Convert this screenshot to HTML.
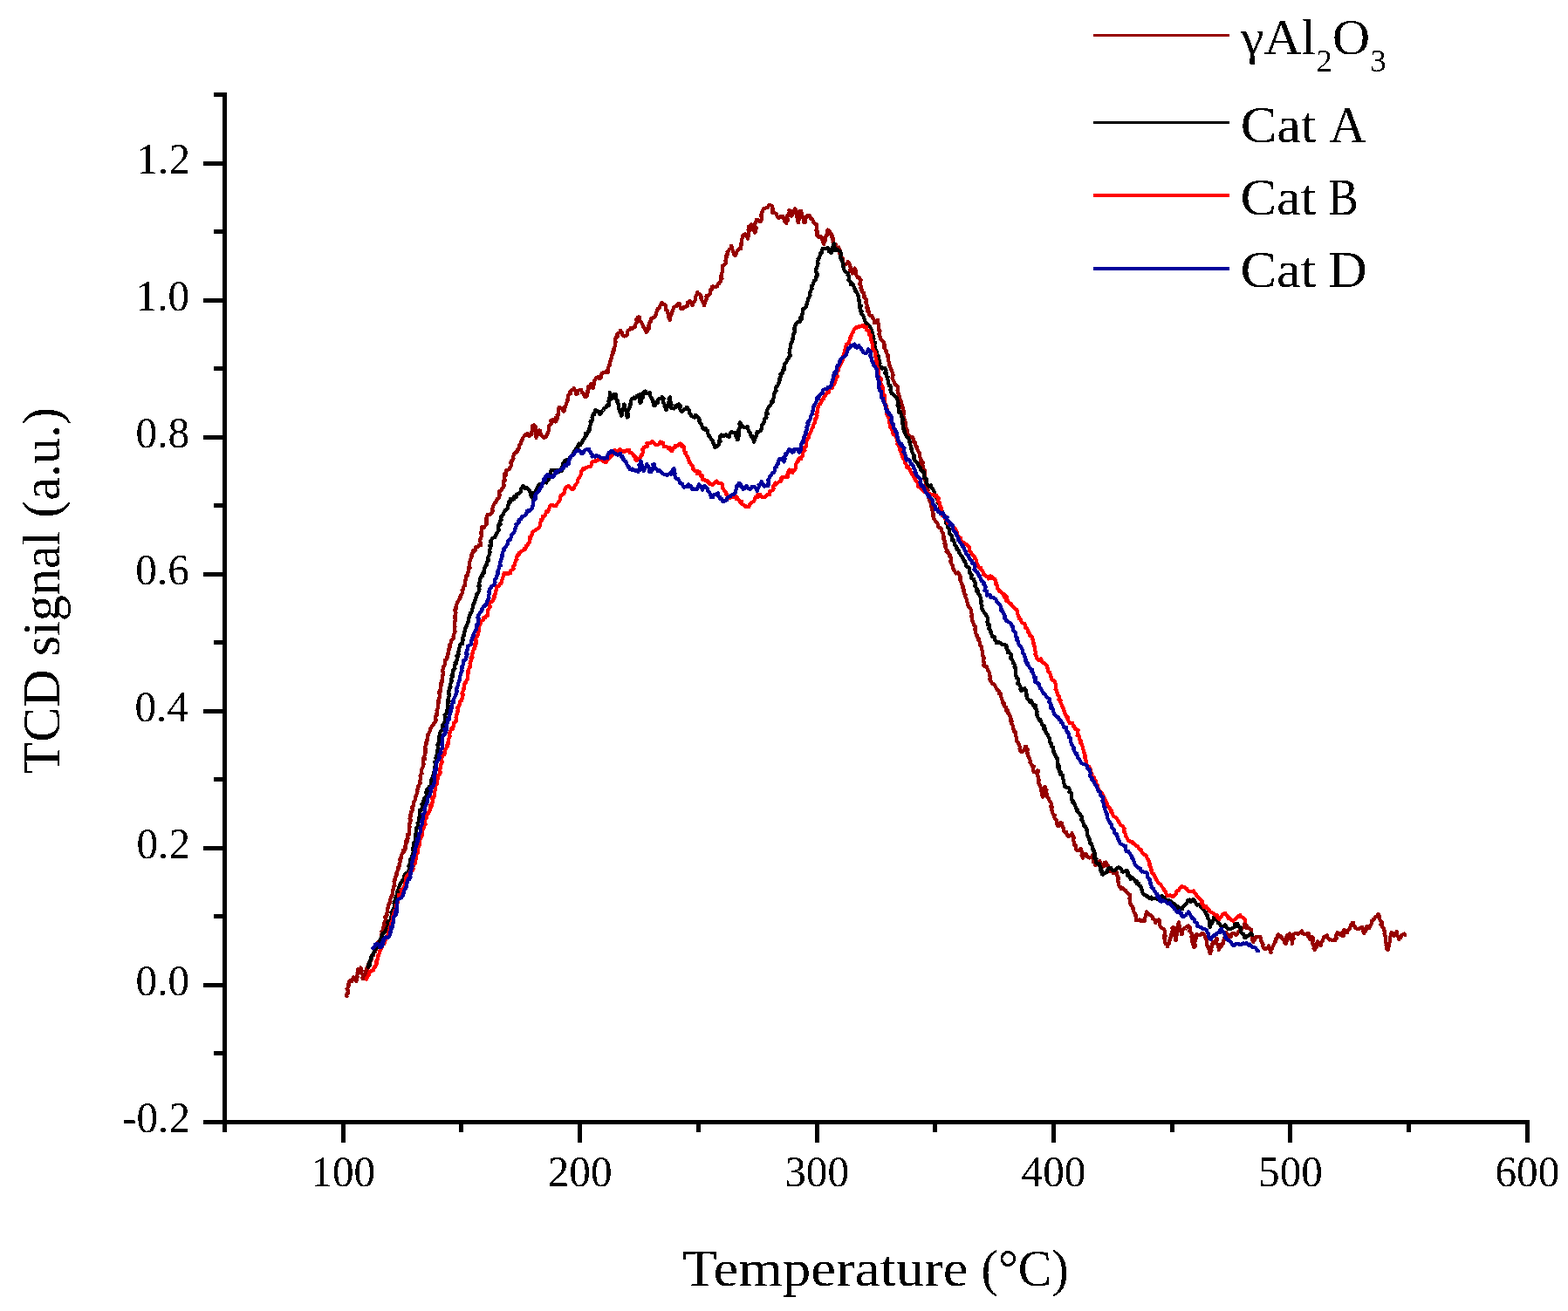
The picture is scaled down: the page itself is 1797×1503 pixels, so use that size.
<!DOCTYPE html>
<html lang="en">
<head>
<meta charset="utf-8">
<title>TCD signal vs Temperature</title>
<style>
html,body{margin:0;padding:0;background:#fff;}
body{width:1797px;height:1503px;overflow:hidden;}
svg{display:block;}
text{font-family:'Liberation Serif', 'DejaVu Serif', serif;fill:#000;}
</style>
</head>
<body>
<svg width="1797" height="1503" viewBox="0 0 1797 1503">
<rect x="0" y="0" width="1797" height="1503" fill="#ffffff"/>
<defs><filter id="crisp" x="0" y="0" width="1797" height="1503" filterUnits="userSpaceOnUse" color-interpolation-filters="sRGB"><feComponentTransfer><feFuncA type="discrete" tableValues="0 0 0 0 0 1 1 1 1 1"/></feComponentTransfer></filter></defs>
<g fill="none" stroke-width="4.2" stroke-linejoin="round" stroke-linecap="round" shape-rendering="crispEdges">
<polyline stroke="#960000" points="397.5,1142.1 397.0,1140.2 398.5,1139.4 398.6,1136.8 399.0,1135.5 397.7,1133.6 397.9,1133.5 399.9,1129.8 399.2,1128.7 399.8,1128.2 400.5,1124.8 401.5,1124.0 403.4,1124.7 403.5,1123.3 405.0,1120.4 406.3,1123.4 407.9,1122.6 408.4,1125.4 408.9,1122.3 407.8,1121.5 409.6,1120.3 408.6,1119.4 410.3,1115.6 409.5,1115.2 410.7,1111.7 410.1,1111.2 411.8,1111.9 413.4,1109.5 414.0,1112.0 414.7,1113.1 414.0,1115.2 414.9,1116.1 415.9,1118.0 415.5,1121.1 415.9,1122.0 417.2,1121.7 417.5,1117.9 418.6,1118.4 419.0,1116.3 419.2,1113.7 419.9,1112.2 420.7,1109.5 421.5,1110.5 421.1,1108.6 422.9,1105.0 422.2,1105.1 423.2,1102.7 424.7,1102.3 425.1,1100.3 426.3,1099.1 426.1,1095.7 426.4,1094.9 427.9,1095.2 427.9,1092.6 430.1,1091.2 430.3,1090.4 430.9,1088.5 431.4,1087.8 431.3,1086.6 433.4,1082.6 432.7,1081.8 433.2,1080.0 435.0,1078.4 434.5,1079.8 435.9,1076.9 436.8,1075.3 437.1,1073.2 437.4,1071.1 438.0,1069.6 437.4,1067.9 438.3,1068.8 439.0,1067.3 439.0,1063.3 440.0,1061.4 440.9,1060.5 439.8,1058.5 440.2,1059.2 440.9,1056.1 442.4,1054.7 441.2,1051.3 441.3,1050.6 442.9,1050.2 443.7,1049.3 443.1,1047.2 443.7,1045.8 443.6,1045.0 443.7,1042.2 445.1,1040.2 445.3,1039.6 445.4,1038.2 445.6,1036.0 447.5,1033.6 446.9,1031.5 448.0,1029.2 447.9,1029.7 449.2,1026.1 449.9,1025.7 450.1,1023.5 449.7,1022.2 450.9,1019.0 450.7,1020.0 451.6,1016.2 451.5,1015.4 452.5,1015.1 451.5,1010.8 452.6,1009.1 452.3,1007.8 452.5,1007.9 452.8,1006.1 454.9,1003.1 454.3,1002.7 455.3,1001.4 454.5,1001.0 456.1,997.5 456.9,995.0 457.2,995.9 456.2,994.5 458.1,992.9 457.5,990.7 459.0,987.8 457.9,985.1 459.3,985.1 459.8,983.8 459.6,982.6 460.0,980.5 461.4,978.1 461.0,978.9 463.2,976.3 462.1,974.6 464.5,973.9 464.5,969.9 464.8,969.1 465.1,968.4 466.6,965.1 465.4,966.4 465.6,962.8 466.4,963.1 467.6,961.6 467.0,957.0 467.7,957.7 468.7,956.6 469.3,952.0 469.3,951.8 469.1,949.1 469.1,949.0 469.7,947.6 468.9,946.5 469.4,944.2 470.9,940.2 470.5,941.7 469.5,938.4 470.5,936.3 470.2,934.0 471.0,933.4 471.0,930.8 471.5,931.4 473.3,927.6 471.9,925.9 474.1,923.9 474.2,922.0 474.3,921.7 474.4,918.9 475.4,917.9 476.1,916.8 475.8,913.4 477.1,911.8 476.8,913.3 477.8,909.5 478.5,907.5 478.2,906.9 478.5,905.0 479.5,902.6 479.4,901.1 480.2,900.0 480.9,898.7 482.0,897.9 481.1,896.3 481.9,892.9 481.9,890.7 481.5,889.0 481.5,889.1 482.6,887.1 483.6,886.5 482.6,885.2 483.2,882.7 484.0,880.3 484.5,880.0 484.8,877.1 485.5,876.2 485.1,873.7 485.1,873.7 485.4,868.8 486.9,870.2 486.3,867.9 486.9,864.0 487.3,864.1 488.0,861.9 486.8,861.3 487.6,858.7 487.9,858.3 487.1,856.0 489.2,852.6 487.7,852.0 489.1,850.8 489.1,848.1 489.8,848.7 489.6,845.0 490.8,842.6 490.1,842.0 491.0,841.5 492.3,839.5 493.0,836.8 493.4,835.3 495.4,832.3 495.3,832.5 496.9,830.6 496.8,829.8 498.4,828.6 499.0,827.1 499.8,825.2 498.8,824.1 499.5,820.3 499.8,819.0 500.6,820.0 501.1,818.5 500.9,815.3 500.5,814.7 502.0,811.1 501.7,809.2 501.7,808.7 502.1,806.6 503.0,805.9 502.1,803.8 503.7,800.3 503.4,800.3 504.2,797.0 503.7,796.5 503.1,793.8 504.6,792.8 504.5,790.8 504.9,791.7 505.4,788.1 505.1,786.9 506.3,784.7 505.2,783.3 506.8,781.5 505.7,780.4 506.6,779.4 507.0,777.5 506.7,775.0 508.1,773.5 507.9,771.4 507.6,770.2 506.9,768.2 508.3,766.5 508.0,764.0 507.9,764.2 509.2,762.9 510.2,761.0 510.4,759.9 510.1,756.8 511.6,756.3 512.3,753.0 513.1,753.2 513.4,751.4 513.5,748.5 514.4,747.1 514.4,746.6 514.5,744.0 516.2,741.0 515.1,739.5 516.2,738.5 516.8,736.8 517.4,734.3 518.3,733.4 520.1,731.8 519.5,729.6 519.7,728.9 520.7,725.9 521.5,724.4 521.4,722.8 520.8,722.1 520.9,719.6 521.5,718.9 521.0,716.8 521.2,715.0 520.7,713.1 521.7,712.5 522.3,710.9 522.4,707.8 521.1,708.5 521.5,705.4 522.5,702.1 521.8,701.8 521.4,700.0 521.9,696.9 523.3,696.9 523.1,695.5 523.2,693.1 523.6,692.2 524.3,690.1 525.3,688.7 526.6,687.0 527.6,685.1 527.3,684.3 529.6,680.3 529.8,680.3 530.4,676.7 529.5,676.9 531.0,675.0 531.6,672.0 532.5,670.3 533.2,671.0 533.3,669.6 532.9,667.1 532.9,665.9 534.3,663.4 534.1,660.2 535.7,658.5 535.9,659.9 536.1,656.8 536.9,655.8 536.8,653.3 537.2,650.2 538.6,650.8 538.0,649.0 538.0,645.9 537.9,644.8 539.4,642.2 539.0,641.5 539.1,641.3 539.8,640.0 541.1,636.3 540.5,635.8 541.7,633.7 541.7,631.5 544.4,631.5 544.7,629.0 545.1,627.0 547.0,627.3 549.2,624.6 550.1,625.4 551.0,625.3 550.6,621.5 549.6,619.8 549.7,619.3 551.0,617.8 551.7,614.7 551.7,614.5 551.4,610.5 552.2,610.5 551.5,609.9 551.8,607.0 552.2,604.2 554.6,605.2 555.6,603.5 556.8,602.0 557.6,601.4 557.5,599.5 557.5,595.9 558.3,593.8 557.3,593.9 557.9,593.3 558.4,590.3 559.7,589.7 561.1,590.4 563.4,588.6 563.6,587.7 564.9,585.1 564.1,585.2 564.4,583.1 565.1,580.1 566.2,578.4 566.8,577.0 568.0,576.3 569.2,573.0 569.6,572.1 571.0,572.0 572.2,570.3 572.6,567.3 572.3,566.5 571.9,563.6 572.6,562.8 574.2,562.7 575.4,560.0 576.8,558.6 578.0,556.1 577.0,556.6 576.7,552.0 578.1,551.9 578.9,550.5 577.8,549.1 578.4,547.3 578.2,543.8 579.9,544.7 579.3,541.9 580.3,538.9 582.6,538.6 584.0,537.6 583.9,536.4 585.4,534.7 586.3,532.9 585.1,530.7 586.8,528.5 586.5,528.2 588.5,525.6 588.2,524.2 588.4,522.5 589.3,520.2 591.6,517.5 591.9,519.0 593.5,516.9 593.4,514.7 595.2,513.8 594.7,511.5 595.4,510.2 597.3,507.7 596.8,506.8 597.3,506.5 598.5,504.0 599.3,501.8 601.5,499.4 601.5,498.4 603.5,498.5 604.5,497.0 606.3,499.9 608.5,498.5 609.6,497.5 609.1,496.0 610.3,492.8 610.1,490.6 609.7,490.2 610.2,488.5 612.1,487.5 613.5,488.5 613.4,489.0 613.5,492.9 613.3,492.9 614.1,494.1 614.8,496.2 613.7,497.9 614.2,500.0 614.4,501.8 614.7,499.9 614.7,497.0 616.6,498.0 616.9,495.1 616.9,493.5 618.9,493.6 618.2,497.7 620.3,497.8 621.3,499.8 622.8,501.3 623.5,501.8 624.6,501.6 626.0,500.5 627.2,496.8 627.7,496.8 628.1,495.7 629.1,493.3 629.3,493.1 629.0,489.4 629.6,487.3 630.7,487.1 632.0,485.2 630.9,482.1 631.9,481.8 633.8,481.1 634.5,482.8 636.9,483.5 637.9,481.1 637.3,478.6 639.1,479.5 638.6,475.4 639.9,475.5 639.8,474.0 639.9,471.5 640.8,468.7 640.2,468.7 641.1,466.8 642.2,468.0 643.7,468.0 644.2,468.8 646.1,471.8 647.0,470.6 646.2,467.4 647.4,467.8 648.8,464.0 648.8,463.7 649.4,461.8 650.5,459.0 649.9,459.3 651.4,456.1 651.0,454.9 651.1,453.8 653.1,450.8 653.8,451.3 653.6,448.4 654.1,448.2 656.9,446.5 657.8,445.1 657.8,446.7 659.9,448.8 660.6,451.2 660.3,451.8 661.7,451.6 662.7,448.0 664.1,447.0 665.3,446.7 665.9,446.7 667.3,450.5 669.2,451.8 669.6,453.2 669.6,454.1 671.1,455.1 672.5,454.1 672.1,452.9 673.7,450.3 672.9,448.6 674.5,446.6 674.0,447.6 674.3,443.2 676.4,443.6 677.2,443.0 677.0,440.1 677.1,442.5 678.2,444.0 679.5,445.1 679.0,444.3 679.8,442.3 680.8,440.6 681.2,436.8 681.4,435.9 683.3,433.5 682.8,433.4 685.3,432.1 686.4,434.1 688.6,433.4 689.3,429.9 689.3,428.8 690.3,427.5 692.7,427.4 694.5,425.6 696.7,427.0 697.0,425.2 696.8,423.9 697.2,421.6 697.6,419.9 697.9,418.9 699.4,418.5 699.2,414.0 700.0,413.7 700.3,412.8 700.3,411.9 700.8,409.2 700.9,407.3 702.7,405.3 702.1,403.9 704.0,401.2 703.4,400.3 704.2,398.8 705.0,396.2 705.0,393.7 705.5,392.1 704.6,391.1 704.8,391.6 705.0,388.9 705.9,387.0 706.9,384.1 708.1,385.8 708.4,381.8 708.8,381.7 711.0,380.9 710.9,378.6 711.3,379.1 713.0,381.9 713.4,383.6 715.1,385.5 717.6,385.3 717.8,384.5 719.4,383.0 718.9,380.3 720.1,378.6 722.5,377.3 722.6,376.0 725.1,377.0 726.4,375.2 727.6,375.1 728.4,371.7 729.2,370.3 730.4,369.3 729.2,366.2 730.7,364.3 730.9,363.6 732.8,363.5 733.4,368.0 733.2,367.4 734.4,368.5 736.1,371.3 736.0,371.4 736.8,373.6 737.8,375.5 738.9,377.4 739.7,376.7 740.1,379.3 740.9,381.1 742.1,378.7 741.7,377.3 742.2,378.0 743.9,376.6 743.4,373.3 744.3,372.0 743.8,370.7 745.0,368.2 746.3,368.6 745.9,365.3 747.8,364.9 749.3,363.8 750.5,363.0 751.8,360.3 751.8,359.1 753.0,356.3 754.1,353.7 754.3,353.6 756.2,352.9 755.7,351.6 757.1,349.4 758.5,346.9 758.9,349.1 761.8,348.8 762.6,350.3 762.9,351.9 762.9,355.2 764.2,355.7 764.8,355.8 765.6,360.2 766.6,360.1 766.0,363.6 767.2,364.2 767.5,366.5 767.6,366.9 767.7,364.8 768.3,362.6 769.3,360.3 769.8,359.6 769.8,357.4 771.2,355.9 771.0,355.3 771.2,355.1 772.3,352.1 775.3,350.4 775.5,351.0 776.7,349.1 777.7,347.7 779.0,348.2 779.0,350.5 780.2,353.6 782.8,354.3 782.9,352.5 785.7,351.9 786.8,351.1 788.4,350.5 788.0,346.8 789.4,345.7 791.0,345.2 791.1,346.2 792.6,348.4 793.5,350.3 793.4,348.8 794.9,346.1 796.2,345.8 796.7,343.5 796.8,342.4 796.9,340.2 798.5,337.9 798.3,338.3 799.4,335.2 799.9,336.6 801.0,337.0 803.4,338.6 803.5,341.9 804.3,343.7 805.6,346.9 806.0,346.9 807.0,347.6 806.9,350.3 807.6,347.9 808.7,345.4 808.5,344.5 809.7,342.5 809.7,340.2 809.2,339.8 810.2,338.6 812.2,338.7 813.6,336.9 814.0,334.0 814.2,332.3 815.8,331.7 815.5,331.0 816.1,328.5 818.3,328.6 819.8,328.9 821.9,328.5 822.0,327.6 823.5,324.5 824.1,325.1 826.1,321.9 826.1,318.6 827.4,319.5 827.2,315.6 826.2,316.0 827.0,314.3 827.5,312.4 828.1,311.4 827.7,307.3 827.6,306.9 827.7,305.2 828.7,305.4 829.9,303.9 831.7,302.4 831.9,300.2 831.3,298.9 832.1,297.6 831.8,293.5 833.3,294.0 833.4,290.5 833.7,291.5 833.6,288.5 835.4,287.0 835.4,286.5 837.6,284.5 837.8,281.8 838.4,282.0 839.0,285.8 839.3,286.0 840.3,289.0 841.0,289.8 841.6,292.6 842.8,292.7 843.0,291.9 844.2,289.5 845.3,286.8 848.3,284.6 849.4,285.1 849.1,282.4 849.3,282.6 849.6,280.3 849.5,278.5 850.1,277.6 850.4,273.8 850.9,272.6 851.1,271.8 851.4,270.0 853.6,268.4 855.0,271.0 856.3,270.2 857.0,273.5 856.9,271.2 857.9,270.6 856.7,268.7 858.0,267.4 857.8,265.3 858.6,264.8 857.6,263.4 857.8,260.1 859.8,258.5 860.3,257.6 861.0,257.5 862.6,259.3 862.5,263.5 864.5,262.7 864.6,264.7 865.3,266.8 865.9,265.0 866.0,264.1 866.9,261.2 865.0,259.4 865.2,256.9 865.5,255.9 866.8,253.8 866.7,254.4 867.0,251.8 868.8,251.9 870.8,254.2 872.0,253.4 873.1,251.4 873.0,250.8 872.3,247.4 873.3,245.2 872.2,246.8 873.5,243.0 873.7,241.7 875.0,239.6 875.7,239.2 877.8,238.4 880.0,238.0 881.2,235.1 881.9,235.0 884.5,235.9 885.2,237.6 885.6,238.9 885.4,242.1 885.2,241.3 885.3,244.2 886.5,243.4 889.5,245.1 890.8,248.3 891.1,248.1 892.9,250.1 894.0,248.5 897.0,248.4 897.4,248.3 899.1,252.4 899.2,254.3 901.2,255.6 901.2,255.9 901.8,253.6 902.5,252.0 903.3,252.3 902.2,250.5 902.2,246.9 903.2,247.2 904.3,244.8 904.7,242.5 904.5,240.9 904.7,241.4 906.3,243.8 906.3,244.9 907.0,247.6 908.9,244.9 907.7,243.7 909.0,241.8 909.5,242.1 911.2,239.2 911.5,241.7 912.3,240.9 913.2,243.3 913.5,245.2 912.9,245.6 912.9,247.5 914.2,251.5 913.7,253.2 914.6,254.8 915.4,255.1 915.3,252.3 915.4,253.1 917.0,248.6 916.6,248.9 917.0,247.0 917.5,243.8 916.8,241.8 917.9,241.7 917.4,242.9 918.7,244.0 919.4,247.0 919.6,249.2 921.0,248.8 921.3,251.1 921.1,253.1 921.2,255.1 923.0,254.9 922.2,250.2 923.8,249.7 925.0,249.0 925.4,246.7 927.3,248.5 928.2,247.3 929.2,250.7 930.4,250.9 931.8,253.2 932.7,255.4 933.9,256.8 934.6,256.8 935.7,257.0 936.1,258.9 935.8,263.1 935.4,263.9 936.3,266.2 937.1,265.8 936.1,269.5 937.1,270.1 938.2,271.8 940.9,270.9 940.5,272.5 942.6,272.6 942.5,275.6 942.8,277.3 943.0,277.1 944.2,280.1 944.0,279.3 945.8,276.0 944.6,274.6 946.2,275.1 946.0,271.6 947.3,268.8 948.0,269.9 948.3,266.4 948.5,265.6 948.4,263.4 950.2,264.2 951.7,267.1 952.1,268.7 953.4,269.2 953.4,272.3 954.6,273.3 954.4,274.6 954.8,276.5 954.6,277.4 955.1,280.1 956.5,281.3 957.7,280.4 958.1,284.5 961.3,283.5 961.8,285.1 962.8,287.5 961.7,288.2 961.9,289.6 963.3,292.6 963.4,293.5 965.0,295.5 966.0,296.5 966.1,299.7 966.3,301.8 966.8,302.3 968.4,303.5 970.2,302.8 971.8,300.1 972.3,301.2 973.1,301.8 974.5,306.2 974.8,306.7 974.2,310.1 974.7,311.2 976.4,311.3 976.8,313.5 978.5,312.0 977.5,311.0 979.3,307.6 980.7,310.1 979.8,310.5 980.5,312.1 981.1,313.6 981.8,316.8 983.7,318.8 985.1,318.5 985.0,319.2 986.6,320.6 985.8,323.4 985.3,325.9 986.8,327.8 986.4,329.8 987.4,331.0 987.4,332.4 987.6,333.5 988.4,334.7 990.3,336.0 989.7,337.4 991.0,340.2 990.4,341.1 992.6,342.6 992.8,345.6 992.1,346.4 993.0,348.2 994.1,350.6 993.5,351.9 993.0,352.4 995.2,353.7 994.2,356.6 996.4,358.0 996.0,360.2 997.4,362.0 999.3,361.9 1000.2,364.5 1000.0,364.3 1001.5,366.1 1001.8,369.6 1001.8,370.3 1002.9,369.3 1004.1,368.4 1006.0,366.9 1005.3,368.1 1006.5,370.9 1006.6,372.2 1006.8,372.0 1007.3,376.9 1006.8,376.9 1007.7,379.9 1008.5,379.3 1007.5,383.3 1007.3,383.2 1008.2,385.1 1008.7,386.7 1009.3,388.6 1011.7,390.9 1012.7,392.0 1013.5,394.9 1013.5,393.9 1013.8,397.6 1013.0,397.9 1014.4,400.3 1015.9,402.2 1015.5,403.0 1016.9,406.6 1017.7,407.0 1017.1,408.6 1017.6,409.1 1017.6,412.0 1018.6,414.8 1018.3,414.1 1019.4,417.0 1019.3,418.6 1020.2,420.5 1021.4,423.2 1021.6,424.4 1021.9,425.3 1022.8,427.4 1023.3,429.1 1023.6,430.3 1022.5,433.3 1023.1,433.3 1023.5,435.4 1024.5,437.5 1025.2,439.4 1026.0,441.3 1026.4,440.8 1028.8,442.9 1028.7,445.1 1028.7,446.5 1028.6,447.3 1029.5,451.6 1030.4,451.8 1029.9,453.3 1031.4,455.3 1030.9,458.0 1032.1,458.4 1032.8,461.2 1032.3,462.7 1032.4,462.3 1033.6,463.4 1034.4,465.9 1034.6,469.0 1034.6,470.1 1035.8,471.0 1036.2,473.6 1034.6,476.7 1036.0,478.2 1036.3,479.2 1036.5,481.5 1037.4,482.0 1037.1,483.5 1037.7,484.3 1037.3,488.3 1037.8,487.5 1038.1,489.6 1039.5,492.2 1039.6,494.9 1039.8,495.6 1040.1,496.6 1040.4,498.5 1042.5,499.4 1043.6,502.0 1044.9,501.9 1045.9,501.3 1047.1,503.5 1047.3,506.7 1049.1,507.4 1048.6,509.2 1048.7,510.6 1051.0,513.4 1051.4,512.6 1051.3,515.2 1051.8,516.0 1053.3,519.4 1054.1,519.6 1053.6,523.0 1054.4,522.7 1054.0,523.6 1055.5,526.9 1054.9,527.4 1056.1,530.6 1057.9,530.4 1056.4,531.9 1058.4,535.8 1058.1,537.0 1058.8,538.6 1059.8,539.2 1060.1,540.9 1060.1,545.0 1058.8,544.5 1059.6,548.4 1059.5,550.0 1060.5,550.3 1060.8,550.6 1061.7,552.8 1060.5,555.9 1061.7,558.4 1063.0,559.9 1061.5,559.9 1063.7,562.4 1063.1,563.7 1064.3,566.8 1063.8,566.9 1064.0,570.3 1064.7,571.9 1065.2,573.5 1066.0,575.2 1066.0,575.2 1066.5,575.9 1067.7,577.1 1067.1,580.3 1067.5,580.6 1068.6,583.3 1068.2,584.5 1069.2,588.3 1069.9,589.6 1068.8,591.6 1069.3,590.7 1069.5,592.2 1070.5,595.3 1071.1,595.6 1072.0,598.0 1073.0,598.1 1075.1,601.3 1074.7,603.3 1076.0,605.0 1077.6,605.1 1079.1,607.2 1079.2,606.7 1079.2,608.9 1080.8,611.5 1081.4,614.8 1081.8,615.1 1081.0,617.3 1082.1,619.2 1083.3,620.9 1083.2,620.9 1082.4,623.4 1083.7,624.5 1083.4,626.8 1084.7,629.7 1085.7,631.5 1084.6,632.4 1086.4,634.4 1087.2,634.1 1088.7,636.3 1088.4,638.5 1089.8,639.1 1089.9,642.6 1088.9,643.8 1089.8,644.1 1090.6,646.9 1091.7,648.2 1091.8,650.2 1093.0,653.4 1093.8,653.7 1094.3,655.2 1095.6,657.6 1098.1,656.1 1099.3,658.5 1100.5,660.9 1100.7,663.1 1099.7,664.3 1101.3,664.5 1100.7,665.7 1101.6,667.4 1102.6,670.2 1102.6,672.3 1104.4,672.3 1103.6,674.7 1104.6,676.3 1104.4,678.2 1104.9,680.2 1106.6,681.7 1106.0,683.5 1106.8,685.4 1107.1,685.4 1107.9,687.6 1107.8,689.1 1109.0,692.0 1109.3,693.6 1110.9,696.8 1111.9,697.6 1112.7,698.6 1112.9,701.9 1112.8,701.3 1114.0,705.2 1113.2,706.7 1114.1,706.5 1114.1,710.2 1114.3,710.3 1114.4,711.9 1115.7,714.9 1115.7,715.6 1117.0,717.6 1117.7,718.4 1117.7,720.3 1117.4,721.3 1117.8,723.9 1117.9,723.8 1118.8,728.1 1120.1,728.3 1120.2,730.3 1121.5,732.0 1121.2,732.9 1121.5,734.4 1122.8,735.7 1123.1,738.0 1123.5,740.3 1123.8,740.3 1125.1,742.1 1125.0,744.0 1126.2,747.6 1126.0,748.6 1126.0,749.2 1126.6,752.3 1127.6,753.7 1127.4,756.1 1126.7,758.0 1128.0,759.3 1127.5,761.7 1127.4,763.1 1128.5,763.7 1130.4,764.2 1131.1,764.8 1132.2,769.2 1132.0,767.6 1133.5,770.4 1134.2,773.5 1134.3,772.7 1134.8,777.0 1134.0,778.1 1134.5,779.0 1135.2,780.4 1136.0,781.3 1137.4,784.1 1139.2,784.5 1140.2,785.4 1140.7,787.0 1142.8,790.4 1143.1,791.3 1144.4,792.1 1145.5,793.2 1144.8,795.4 1147.1,795.6 1147.1,798.4 1147.7,800.4 1148.6,802.6 1148.6,804.1 1149.3,805.7 1151.3,806.3 1150.2,807.8 1151.7,810.0 1153.1,810.8 1153.2,814.8 1154.8,814.4 1155.2,817.7 1156.6,818.2 1156.7,820.0 1158.1,821.5 1158.6,824.4 1158.1,826.7 1159.7,827.4 1159.4,827.7 1159.0,829.2 1160.8,832.1 1160.9,833.4 1160.7,834.6 1162.8,838.1 1162.4,838.7 1163.7,838.5 1163.7,840.3 1164.2,843.4 1165.1,845.8 1165.3,847.3 1164.9,849.7 1166.1,850.5 1166.7,850.5 1167.6,853.4 1169.0,856.5 1168.8,856.2 1168.5,858.6 1169.6,861.3 1170.1,861.8 1172.1,861.9 1173.1,860.0 1174.2,859.2 1175.0,855.7 1175.9,855.9 1175.8,858.7 1177.7,859.0 1177.4,860.9 1177.2,863.1 1178.3,863.3 1178.4,866.8 1179.5,869.5 1179.4,868.8 1180.9,872.6 1180.3,873.9 1181.2,875.0 1182.6,876.8 1183.2,878.5 1184.8,878.9 1183.9,881.1 1184.7,885.0 1185.9,885.1 1187.5,885.7 1189.3,883.5 1190.3,884.1 1189.1,885.4 1189.1,889.1 1189.3,889.3 1190.3,892.9 1190.9,894.8 1190.1,895.2 1190.3,897.8 1190.9,898.1 1191.2,899.2 1192.7,902.8 1192.8,905.1 1192.8,906.7 1193.5,906.8 1194.8,908.9 1194.0,911.9 1194.2,912.0 1195.1,913.5 1195.8,912.4 1195.7,911.6 1196.4,908.1 1196.9,907.6 1196.5,905.1 1197.7,902.2 1197.6,901.8 1198.3,902.5 1197.9,905.1 1199.5,905.6 1198.4,910.0 1200.0,910.6 1199.2,910.8 1200.1,913.5 1200.6,913.9 1201.9,915.4 1202.4,917.1 1204.3,920.2 1204.9,921.4 1204.4,925.1 1206.0,925.9 1205.5,926.1 1204.7,927.6 1206.0,930.2 1205.9,930.7 1207.3,934.3 1208.9,934.6 1208.1,936.9 1209.2,938.8 1210.2,940.2 1211.0,940.6 1210.8,942.0 1211.3,945.4 1212.7,946.9 1214.5,946.6 1214.5,943.5 1216.8,943.6 1216.8,946.8 1217.8,947.6 1218.4,949.5 1219.0,949.5 1218.7,951.9 1220.2,953.6 1221.9,953.6 1223.1,957.6 1222.3,955.7 1224.3,958.6 1225.3,958.8 1227.9,956.5 1228.5,955.3 1228.5,956.6 1229.2,957.0 1230.6,960.5 1231.2,960.5 1229.8,963.0 1231.0,965.3 1231.2,965.5 1231.3,969.5 1233.2,969.5 1233.2,973.1 1233.5,974.3 1234.4,975.3 1235.8,975.2 1236.6,975.3 1238.5,972.8 1238.4,972.9 1240.2,976.8 1240.3,977.6 1239.5,980.6 1241.0,983.3 1241.0,983.6 1241.9,981.0 1243.0,979.2 1245.2,979.5 1245.4,982.2 1246.7,981.8 1248.5,983.6 1250.9,982.8 1251.9,980.3 1252.1,981.9 1253.7,982.5 1253.5,985.6 1253.1,988.5 1254.2,988.8 1255.5,991.0 1255.2,992.0 1256.2,991.8 1257.2,988.9 1260.0,989.2 1260.2,987.0 1261.6,990.1 1261.6,991.3 1262.7,990.8 1263.6,993.7 1264.5,990.9 1265.9,992.8 1265.9,988.8 1267.7,988.6 1268.0,989.8 1269.4,991.5 1270.2,993.0 1270.0,994.8 1270.3,997.0 1272.0,998.8 1273.6,997.7 1275.3,1000.3 1276.0,1001.3 1277.9,1000.6 1280.3,1000.3 1280.1,1001.5 1280.0,1002.9 1281.5,1006.0 1281.7,1008.1 1280.9,1008.5 1281.1,1010.4 1281.8,1011.5 1281.8,1013.4 1282.6,1016.1 1284.3,1016.9 1284.4,1018.7 1286.5,1018.0 1288.6,1020.4 1289.9,1020.6 1290.5,1021.8 1292.6,1024.6 1293.6,1025.4 1294.9,1025.8 1295.1,1029.8 1294.2,1029.8 1295.1,1031.8 1294.9,1034.5 1295.3,1035.4 1296.0,1037.3 1297.8,1040.0 1298.5,1040.1 1298.5,1040.4 1298.7,1044.2 1300.0,1046.1 1300.0,1047.1 1301.4,1048.0 1301.5,1050.4 1301.9,1051.8 1302.3,1052.7 1302.0,1055.1 1305.0,1054.9 1306.0,1054.1 1307.0,1055.8 1309.0,1055.3 1311.5,1056.1 1311.0,1056.0 1312.1,1052.5 1313.2,1050.4 1313.8,1048.8 1312.6,1048.7 1314.3,1046.9 1314.0,1045.1 1315.0,1047.7 1316.0,1047.1 1318.0,1049.1 1319.5,1049.8 1321.1,1052.1 1321.1,1053.3 1322.2,1053.5 1323.6,1055.0 1324.1,1058.1 1324.7,1056.0 1326.9,1055.1 1328.1,1054.1 1328.7,1055.4 1328.4,1057.0 1329.0,1058.7 1328.9,1060.3 1330.1,1063.1 1331.5,1063.7 1333.3,1065.1 1334.1,1066.1 1335.0,1067.1 1335.0,1068.9 1335.6,1073.3 1333.8,1072.8 1334.0,1075.5 1335.1,1077.1 1335.4,1079.7 1335.5,1082.0 1336.9,1082.8 1337.9,1083.5 1338.1,1085.2 1338.0,1081.9 1339.9,1081.8 1340.2,1078.3 1341.0,1077.4 1341.1,1076.1 1342.0,1073.8 1342.3,1074.3 1343.1,1071.6 1342.3,1071.1 1343.3,1067.8 1343.9,1066.8 1343.5,1063.7 1344.6,1063.1 1345.3,1064.5 1344.3,1065.4 1345.9,1068.8 1345.6,1070.9 1345.4,1071.5 1347.0,1073.3 1347.9,1074.6 1347.0,1077.7 1347.6,1078.1 1347.7,1076.1 1348.4,1075.7 1348.0,1072.9 1348.4,1071.9 1349.3,1071.6 1348.4,1068.8 1350.1,1065.5 1349.0,1064.1 1350.0,1062.0 1350.0,1060.9 1350.2,1061.9 1350.6,1058.5 1351.1,1057.1 1351.0,1057.4 1351.3,1059.8 1351.8,1062.3 1352.4,1064.5 1353.2,1066.0 1353.1,1066.9 1354.1,1070.9 1354.1,1071.1 1355.3,1069.7 1355.1,1068.9 1355.6,1065.8 1357.1,1064.1 1359.5,1064.5 1359.6,1062.7 1362.1,1061.1 1363.6,1063.3 1364.3,1066.2 1363.2,1067.3 1363.9,1067.3 1365.1,1070.1 1366.2,1071.0 1365.4,1074.0 1366.5,1076.2 1366.8,1076.5 1366.4,1078.6 1366.5,1081.0 1367.8,1081.2 1367.0,1081.3 1368.0,1084.4 1368.6,1086.2 1369.7,1085.1 1369.7,1083.5 1368.8,1082.7 1369.1,1081.0 1370.3,1076.4 1370.9,1075.2 1370.6,1075.4 1370.0,1073.1 1371.1,1071.1 1373.4,1072.1 1375.1,1072.1 1377.4,1069.9 1379.1,1070.1 1380.9,1073.4 1381.7,1073.9 1381.2,1074.7 1382.2,1077.1 1382.6,1077.6 1382.6,1080.6 1382.7,1082.9 1383.9,1085.1 1383.6,1084.2 1385.7,1086.2 1385.2,1088.2 1386.5,1089.7 1386.7,1092.8 1387.2,1093.2 1386.5,1092.6 1388.5,1089.2 1387.5,1087.7 1389.2,1085.7 1388.6,1085.5 1389.1,1082.2 1390.6,1081.7 1390.2,1080.2 1391.3,1080.2 1393.4,1077.9 1394.2,1076.1 1394.7,1076.4 1394.2,1080.0 1394.2,1081.8 1394.8,1082.8 1396.0,1082.8 1396.4,1086.8 1397.3,1086.4 1396.7,1089.2 1398.2,1086.2 1398.9,1086.0 1400.1,1084.9 1400.2,1082.2 1402.0,1081.7 1402.1,1078.0 1402.9,1077.8 1403.2,1075.1 1404.4,1074.0 1404.3,1072.4 1405.2,1069.1 1406.9,1071.4 1407.6,1072.1 1407.9,1072.2 1409.2,1074.1 1410.7,1074.4 1411.3,1071.3 1412.2,1070.1 1414.1,1069.9 1416.2,1072.1 1416.8,1071.9 1418.6,1069.3 1419.2,1068.1 1420.7,1066.5 1422.8,1065.4 1423.2,1064.1 1424.8,1063.4 1425.6,1062.3 1426.2,1059.1 1426.2,1059.6 1429.1,1061.0 1428.5,1063.9 1430.2,1064.1 1432.4,1064.6 1434.2,1066.1 1433.8,1066.6 1434.1,1068.6 1434.8,1072.7 1435.1,1074.1 1436.1,1074.4 1434.8,1077.3 1435.5,1078.3 1436.2,1080.2 1436.5,1077.2 1438.1,1077.7 1438.8,1076.2 1439.2,1074.1 1442.3,1074.1 1444.4,1074.1 1445.3,1077.1 1445.2,1078.5 1446.4,1080.0 1446.8,1083.6 1447.6,1082.7 1447.3,1085.2 1449.0,1088.0 1450.3,1088.2 1451.8,1086.8 1453.3,1086.6 1454.3,1084.2 1454.4,1087.0 1454.8,1088.1 1454.9,1087.7 1456.0,1090.7 1456.5,1092.2 1456.3,1090.4 1457.1,1088.1 1458.0,1087.6 1458.5,1085.2 1460.2,1081.9 1459.7,1082.8 1461.5,1080.2 1461.5,1078.8 1462.3,1076.4 1462.5,1077.3 1463.7,1073.7 1465.0,1071.1 1465.0,1071.1 1465.5,1073.7 1468.6,1073.4 1469.0,1075.1 1469.1,1075.2 1471.3,1078.3 1472.4,1078.7 1471.7,1080.5 1473.6,1082.2 1474.0,1081.5 1473.1,1079.6 1475.1,1078.5 1474.4,1074.1 1475.5,1075.5 1475.1,1072.1 1477.2,1072.5 1478.1,1070.1 1478.6,1071.6 1478.6,1072.1 1479.2,1075.8 1479.0,1076.7 1480.8,1077.7 1480.8,1081.8 1480.6,1082.2 1480.8,1078.7 1481.4,1079.4 1481.0,1075.7 1482.5,1076.2 1482.0,1072.5 1482.1,1071.1 1484.8,1069.8 1486.1,1070.1 1487.3,1071.1 1490.1,1069.1 1492.1,1067.1 1492.5,1070.0 1495.3,1071.0 1496.1,1071.1 1499.1,1070.1 1500.3,1070.8 1499.2,1073.4 1500.6,1075.2 1501.1,1077.1 1502.1,1074.3 1504.1,1074.1 1504.7,1075.4 1504.6,1077.0 1504.5,1079.1 1504.3,1082.2 1504.6,1083.1 1506.6,1082.7 1505.6,1087.4 1506.2,1087.2 1506.6,1089.2 1507.5,1086.0 1508.7,1084.3 1509.2,1085.6 1508.4,1083.8 1508.7,1082.3 1510.1,1079.1 1511.0,1081.3 1511.6,1081.3 1513.6,1084.2 1513.8,1082.1 1514.3,1079.8 1515.7,1078.8 1516.0,1078.0 1516.8,1075.7 1517.1,1074.1 1519.0,1073.6 1521.1,1072.1 1521.3,1074.7 1522.3,1076.1 1523.5,1077.5 1525.1,1077.1 1526.2,1078.0 1528.6,1077.6 1530.2,1078.1 1529.9,1076.8 1532.1,1075.7 1531.0,1073.3 1532.2,1070.1 1532.7,1069.1 1534.6,1070.9 1536.2,1070.1 1536.9,1072.1 1539.2,1073.1 1540.4,1072.8 1540.1,1068.6 1539.4,1067.8 1540.2,1066.1 1541.4,1067.3 1541.8,1068.9 1544.2,1069.1 1544.8,1066.4 1546.9,1064.3 1547.2,1064.1 1547.8,1061.1 1548.5,1059.7 1549.9,1058.0 1551.2,1058.1 1550.9,1059.1 1552.6,1062.8 1553.2,1063.1 1554.3,1064.4 1557.2,1065.1 1559.3,1063.6 1561.2,1063.1 1561.8,1064.8 1561.9,1066.8 1562.7,1068.9 1563.2,1070.1 1564.0,1067.8 1565.3,1067.3 1565.7,1066.1 1566.1,1063.2 1566.2,1062.1 1568.0,1061.8 1569.2,1064.1 1570.7,1061.0 1570.3,1061.0 1572.2,1058.8 1571.6,1058.1 1571.7,1056.2 1573.2,1055.1 1573.9,1054.0 1575.0,1054.0 1576.2,1051.1 1577.2,1051.3 1579.7,1048.1 1579.4,1048.9 1581.4,1051.2 1581.2,1054.1 1582.3,1056.4 1583.4,1056.8 1582.5,1059.9 1584.3,1059.0 1584.2,1062.1 1584.0,1062.8 1586.0,1064.2 1586.6,1067.6 1586.6,1069.1 1586.7,1070.1 1586.5,1070.8 1588.3,1074.9 1587.9,1076.7 1588.0,1076.4 1588.0,1079.1 1588.6,1081.5 1589.2,1082.2 1588.6,1083.4 1588.9,1086.9 1589.2,1086.4 1590.3,1089.2 1590.7,1089.0 1591.8,1084.6 1591.7,1084.4 1592.3,1084.5 1591.5,1081.9 1592.3,1081.0 1593.3,1078.1 1592.9,1076.8 1592.9,1075.7 1593.9,1072.0 1594.0,1071.8 1594.8,1069.1 1596.9,1070.2 1597.3,1073.1 1599.3,1071.1 1600.0,1070.7 1600.8,1068.1 1601.0,1070.3 1601.6,1073.0 1603.3,1074.9 1602.4,1074.3 1603.3,1077.1 1603.3,1074.6 1605.3,1075.3 1606.3,1072.1 1609.2,1070.5 1610.3,1072.1"/>
<polyline stroke="#000000" points="421.7,1108.7 422.5,1106.1 423.9,1107.1 423.5,1104.7 423.6,1101.7 424.3,1101.7 424.8,1101.2 425.1,1097.0 425.8,1097.5 426.9,1094.9 427.5,1094.0 428.4,1092.0 429.1,1089.5 429.9,1088.4 430.1,1088.7 432.1,1086.7 433.4,1084.3 433.2,1083.0 434.1,1082.3 435.1,1080.3 434.8,1078.7 436.6,1076.8 436.3,1076.5 437.1,1074.6 438.1,1071.3 438.9,1069.9 439.6,1070.5 441.5,1068.0 441.8,1066.9 442.8,1065.2 443.2,1064.9 443.5,1063.2 445.0,1060.9 444.3,1057.2 445.1,1056.4 446.8,1055.3 448.2,1054.9 448.4,1050.6 448.6,1051.2 449.3,1049.6 448.4,1045.8 450.2,1046.1 450.1,1043.6 451.4,1041.7 451.8,1039.0 452.4,1039.9 451.6,1035.4 452.5,1035.9 452.5,1032.1 452.9,1033.0 452.9,1031.7 453.7,1027.5 453.9,1028.5 455.1,1025.2 456.4,1022.9 455.3,1022.4 457.3,1018.5 457.3,1019.7 457.4,1017.1 458.6,1014.3 458.5,1013.5 458.9,1012.6 460.4,1010.8 460.9,1010.8 461.7,1008.5 463.9,1006.1 463.1,1004.1 464.0,1002.4 465.0,1001.6 466.5,1000.6 467.6,999.3 468.4,998.3 468.8,995.6 469.1,994.7 468.4,993.0 469.2,991.9 470.5,988.8 470.2,987.9 470.3,984.9 470.2,986.5 472.0,983.0 472.3,980.8 472.7,981.5 473.3,978.2 474.1,978.2 473.5,975.1 472.9,973.2 473.9,971.0 474.6,968.9 475.1,969.7 474.0,967.4 474.7,965.6 475.8,965.1 476.3,961.2 476.5,958.9 476.7,958.1 476.1,955.9 476.8,955.1 476.6,954.4 476.6,950.8 477.2,948.9 478.6,948.7 478.8,948.1 478.6,943.5 478.4,943.5 479.8,943.2 479.7,939.1 480.2,939.9 480.0,938.2 481.5,935.3 481.0,933.4 481.5,930.5 481.2,928.5 482.7,929.1 484.0,927.1 484.5,924.7 483.3,921.9 484.1,921.8 486.0,919.3 485.0,919.1 486.0,916.7 486.4,915.4 486.5,914.9 488.6,913.1 489.2,910.1 488.0,908.5 490.3,907.6 489.5,905.0 490.0,904.5 492.1,904.5 491.9,901.7 493.6,901.1 494.3,898.7 494.0,898.0 494.4,895.5 494.3,895.1 494.8,892.4 496.3,890.9 496.6,888.3 497.2,888.6 497.2,887.0 498.0,882.2 497.9,880.7 498.3,879.9 499.0,877.2 499.5,875.5 498.0,873.7 499.3,873.7 498.8,873.7 500.5,871.8 499.4,869.3 500.9,867.8 500.0,867.0 501.2,864.3 500.6,861.7 501.8,860.4 501.5,860.1 501.8,857.0 501.9,856.6 501.4,853.8 503.0,850.3 503.3,849.6 503.4,849.1 502.7,848.5 503.2,844.1 503.9,842.2 504.3,842.0 504.1,841.2 504.6,838.8 506.8,836.8 507.3,836.4 506.6,832.2 508.4,833.2 508.4,830.3 509.5,829.4 509.2,828.5 510.0,826.2 510.7,822.1 510.7,822.2 509.6,819.5 511.0,818.6 511.8,817.0 511.9,814.6 512.3,814.9 513.6,812.1 513.5,808.9 513.5,808.6 512.9,807.1 514.5,804.0 513.2,803.6 513.7,800.7 513.6,800.0 515.1,797.5 515.2,795.5 514.3,795.8 514.0,793.0 515.1,791.9 514.7,789.3 516.5,787.4 516.4,788.3 515.7,786.5 516.2,784.5 517.0,781.4 517.9,780.9 517.0,778.8 517.6,776.9 517.6,774.5 519.4,775.2 518.2,773.3 519.7,768.5 518.9,768.3 520.1,766.9 521.5,766.5 520.7,763.3 522.7,760.9 521.6,759.9 523.3,759.8 523.5,756.8 524.6,753.5 523.4,752.2 524.6,751.5 525.6,750.6 525.3,749.1 524.7,748.2 526.4,746.3 526.0,743.5 527.4,740.7 526.7,739.7 528.9,737.5 530.1,738.0 530.2,735.1 530.9,733.4 530.2,732.9 530.6,730.1 532.1,728.9 531.4,728.1 531.9,724.9 532.7,723.5 533.1,722.5 532.8,720.6 534.3,719.5 534.6,717.0 536.4,713.6 536.0,713.4 537.1,711.7 536.6,709.3 536.9,709.6 537.4,708.3 538.5,705.1 539.2,702.7 540.4,702.0 541.3,698.9 541.6,696.8 541.8,696.7 541.7,694.8 542.4,692.7 543.4,692.6 543.6,690.1 544.8,687.5 545.7,685.1 545.2,685.1 545.7,684.5 546.3,681.1 547.0,681.7 548.5,678.4 549.5,675.3 549.1,673.9 548.3,672.4 549.9,671.8 549.3,670.3 549.2,667.8 549.4,667.8 550.3,665.8 550.4,663.1 551.0,661.7 552.2,659.6 553.2,660.1 553.3,656.9 555.2,656.7 554.4,655.0 554.8,653.4 555.1,651.8 556.0,650.0 556.8,648.7 556.8,647.9 558.4,647.0 558.1,645.1 559.4,641.5 560.1,642.0 558.9,639.6 560.1,637.1 560.8,635.8 561.1,633.0 561.7,632.8 560.7,632.0 562.1,627.2 561.0,625.9 562.6,626.1 563.4,625.0 562.2,621.0 562.3,620.0 563.4,618.7 564.4,616.9 566.3,616.3 567.4,615.8 568.4,613.2 568.8,611.9 570.1,610.4 570.5,609.3 571.7,607.6 570.9,605.6 571.7,602.4 571.4,601.8 573.5,601.0 572.1,600.1 573.5,597.0 574.6,595.7 573.8,593.0 575.2,591.9 575.5,590.8 577.2,589.1 577.6,587.0 578.7,585.5 578.9,584.8 581.5,583.2 581.8,580.3 583.0,577.8 582.7,575.4 584.4,576.5 585.4,574.0 585.1,572.0 587.8,573.1 589.3,572.0 589.4,568.8 591.8,570.2 591.8,566.9 593.9,566.2 594.9,565.9 596.8,563.6 597.0,560.4 598.7,558.8 599.1,559.1 599.3,556.9 600.0,557.7 601.9,560.0 604.4,559.4 604.6,560.4 606.8,561.9 607.3,564.0 609.0,564.7 607.9,567.4 609.1,569.4 610.2,570.4 611.1,570.9 611.0,573.6 612.1,570.9 612.0,570.5 612.7,567.3 613.0,566.2 613.2,565.0 614.0,562.6 615.0,563.4 615.2,560.3 616.9,557.5 616.9,556.9 618.0,555.5 620.4,555.4 621.9,553.6 623.7,552.7 626.2,553.5 627.5,550.2 628.5,550.3 629.5,547.0 630.3,547.6 630.7,545.0 630.6,542.7 631.5,540.8 631.1,540.2 632.0,538.9 635.3,539.2 636.9,538.6 639.2,539.6 640.8,540.9 641.0,538.5 643.6,540.2 643.6,537.3 644.6,537.6 644.4,535.2 645.0,531.9 645.5,531.1 646.8,531.8 646.9,528.5 647.5,527.7 649.8,527.3 650.6,527.6 652.8,525.2 653.3,524.1 654.5,522.6 656.5,521.4 656.3,521.2 657.0,519.8 658.6,516.9 660.1,514.3 661.8,514.8 661.9,511.9 663.2,511.7 663.6,508.6 665.6,509.6 666.9,506.8 667.5,506.8 668.6,503.5 669.6,502.9 670.9,499.5 672.0,499.6 671.2,496.8 673.4,496.8 673.6,495.2 675.2,494.7 675.1,491.5 676.2,491.8 675.9,488.5 677.0,486.8 676.5,483.6 676.7,483.0 678.2,483.0 678.8,481.7 678.6,478.5 679.0,478.0 679.9,474.7 681.2,475.1 681.9,470.3 682.8,470.1 683.8,471.6 685.7,471.4 686.1,472.7 687.8,475.1 688.9,473.1 689.5,471.8 691.5,470.5 692.0,468.4 693.9,467.3 695.8,465.5 695.5,464.6 697.8,465.1 697.9,462.8 697.4,460.1 698.7,458.6 698.5,460.0 697.8,457.1 699.2,454.9 699.3,451.8 698.7,452.7 698.7,450.1 699.5,452.9 701.3,454.6 701.1,455.7 702.0,456.8 703.9,455.5 703.3,452.4 705.3,451.8 706.0,452.1 705.6,456.7 706.8,458.4 707.9,459.4 707.6,459.2 707.3,460.8 708.7,463.4 709.1,465.5 708.8,466.6 709.7,469.7 709.9,471.3 711.1,473.3 710.7,472.7 711.6,474.3 712.0,476.8 712.6,476.7 712.9,472.4 712.4,472.2 713.6,468.4 713.8,469.5 714.8,466.2 715.9,466.7 715.4,463.4 714.8,464.2 716.3,466.2 715.9,469.5 717.7,470.1 718.2,472.0 717.8,473.5 718.6,476.5 718.3,476.7 718.7,478.5 719.7,478.0 719.9,474.0 719.2,473.0 719.4,471.3 720.5,468.8 720.5,468.9 722.4,465.8 722.0,465.1 723.2,463.1 722.4,463.2 723.2,460.0 723.7,457.7 725.4,456.8 726.5,455.5 728.2,456.7 729.8,454.1 731.6,453.3 732.7,452.4 733.7,451.8 734.2,452.0 733.1,455.8 734.2,456.3 732.8,458.8 732.9,459.7 733.7,461.8 734.8,461.1 735.3,457.1 735.6,455.2 736.6,455.9 736.7,454.6 737.2,452.6 737.1,450.1 739.8,448.6 740.0,450.8 741.9,451.1 744.6,450.1 745.0,452.6 744.9,453.6 746.7,455.9 746.1,455.9 748.1,459.4 747.9,458.5 748.9,462.6 749.3,465.0 749.6,465.1 750.9,464.5 751.2,461.0 753.7,461.8 753.8,458.4 754.6,457.7 757.5,456.6 758.8,455.1 759.1,456.3 760.7,457.2 759.6,460.9 760.0,461.4 761.7,464.0 761.6,465.6 763.0,467.9 763.2,469.9 763.8,470.1 764.1,469.9 764.5,467.6 764.7,465.5 766.1,461.9 766.7,460.4 767.1,458.9 766.5,457.8 767.0,457.1 767.9,455.1 767.8,457.9 768.1,459.4 768.2,460.2 769.0,461.3 769.6,463.9 769.3,465.7 768.9,466.2 769.6,468.4 771.8,468.3 772.3,468.5 774.7,466.7 774.4,464.7 776.4,464.5 778.0,463.4 778.2,465.0 780.1,465.5 779.1,468.6 779.6,469.7 781.3,471.8 782.3,471.5 783.6,469.4 786.4,468.6 787.1,466.8 787.8,467.3 789.8,470.8 790.2,470.6 790.2,474.2 792.3,475.7 792.1,476.8 793.4,477.6 795.7,478.7 797.1,475.6 798.4,476.8 798.6,477.7 801.2,479.6 801.7,481.8 801.5,483.4 802.3,484.8 804.1,486.8 804.5,488.5 805.0,490.2 807.7,492.7 808.4,491.1 810.1,493.5 811.3,494.0 810.7,495.4 812.4,499.7 813.4,500.2 814.5,502.8 815.7,504.3 816.7,505.2 817.4,507.8 817.7,508.1 819.2,511.8 819.2,512.7 821.2,512.4 822.6,511.3 823.4,510.2 824.2,509.2 824.2,505.3 825.6,506.5 825.0,503.3 825.0,503.3 825.4,499.9 826.7,498.5 827.4,499.7 830.5,499.4 831.8,498.5 833.3,500.0 835.4,498.8 835.9,501.0 836.3,497.7 837.5,495.7 838.4,495.2 840.8,495.9 842.6,496.0 843.6,498.8 842.7,497.8 844.0,501.1 845.0,502.1 845.1,504.3 846.3,502.8 845.6,501.6 846.8,500.1 847.0,496.6 845.7,494.4 847.0,495.1 846.4,493.0 846.7,491.3 848.6,490.6 847.4,486.2 847.6,486.1 848.4,484.3 849.2,485.6 850.6,488.6 851.3,488.4 852.6,490.2 854.3,489.9 856.8,489.3 856.7,490.9 857.9,493.4 858.6,495.3 858.7,495.4 859.3,495.3 860.1,498.5 861.4,500.8 862.7,500.3 863.4,504.4 864.3,504.0 864.3,506.8 864.3,506.0 865.6,502.1 864.8,503.4 866.7,499.7 866.6,497.4 866.7,498.4 867.6,495.2 868.9,495.8 871.8,493.5 872.8,491.4 873.2,490.3 873.4,488.7 873.5,486.8 874.2,486.9 875.7,483.7 876.1,481.9 876.1,480.5 878.4,478.9 878.5,478.5 878.2,475.2 879.8,474.3 878.4,474.2 878.3,472.8 879.3,470.1 880.8,466.9 882.0,465.8 881.6,466.0 883.5,463.4 885.1,461.3 884.4,460.1 886.1,460.0 886.5,456.4 886.8,455.1 887.2,454.7 887.2,451.3 887.5,451.7 889.1,447.5 889.5,448.3 889.3,445.1 889.8,442.8 890.6,442.9 891.8,441.3 892.7,438.4 892.7,437.6 894.2,435.0 892.9,434.7 894.7,431.4 894.9,431.7 894.4,428.4 896.8,428.1 897.2,424.7 898.7,423.7 898.5,421.2 898.9,419.2 898.7,418.1 899.3,417.9 900.4,415.4 901.2,415.3 902.8,411.2 903.9,410.7 904.5,408.7 905.7,407.7 904.6,404.2 905.1,403.1 904.9,403.0 905.3,400.4 905.7,399.1 906.2,397.0 905.9,394.9 906.5,393.9 907.4,393.2 908.0,388.6 908.5,389.8 909.2,386.1 908.7,385.3 909.3,382.6 909.8,382.7 910.7,380.4 910.5,377.9 910.0,376.7 910.6,375.9 911.1,373.2 912.1,372.0 912.7,370.2 916.1,368.4 917.1,368.6 917.4,367.8 918.7,365.8 917.2,364.5 919.2,363.1 919.4,361.0 919.7,358.4 919.6,356.9 919.6,354.6 921.5,354.2 923.5,352.3 923.3,352.2 924.0,349.6 925.4,348.6 925.1,346.9 925.4,345.6 926.4,342.5 926.4,342.2 926.8,341.9 928.5,338.2 927.9,336.9 928.9,334.4 928.4,334.5 930.6,331.0 929.9,330.7 930.2,327.6 931.5,326.7 932.1,325.2 932.5,323.5 933.3,321.5 935.2,320.5 935.4,318.5 935.4,316.7 936.6,316.8 936.6,314.4 935.8,311.9 935.3,311.7 935.5,307.1 936.3,306.8 936.9,303.8 937.5,302.8 937.8,302.0 936.9,300.2 938.4,296.8 937.7,296.4 938.8,295.2 939.7,293.2 940.1,292.4 940.6,289.4 941.8,289.9 942.4,285.3 943.4,285.1 944.5,284.9 947.7,285.0 948.4,284.3 949.5,284.8 950.2,288.5 952.5,288.2 952.6,290.1 953.4,289.2 954.0,286.3 953.5,285.0 954.5,283.0 954.0,283.8 955.2,280.8 955.9,279.3 955.9,282.7 957.1,284.2 956.6,285.8 957.6,286.8 959.6,286.3 961.8,287.6 962.5,287.8 963.6,289.5 963.8,292.1 962.9,294.7 963.3,296.5 964.1,296.1 965.1,298.5 964.5,298.7 966.6,302.8 966.1,304.6 966.1,304.9 966.7,306.3 967.3,308.4 967.6,310.2 969.4,312.2 970.1,312.1 971.8,313.5 972.2,314.0 971.6,315.3 973.3,317.3 972.3,321.0 973.5,321.8 974.8,323.0 974.7,326.0 975.8,324.7 977.8,326.5 979.3,330.1 979.3,330.2 980.0,332.8 980.3,334.1 981.4,334.1 983.1,338.3 983.5,338.5 983.8,341.2 983.8,341.4 984.7,344.1 983.6,344.2 985.2,346.9 985.1,348.5 984.8,349.7 986.7,350.6 985.2,352.1 986.7,356.8 987.9,357.1 986.6,357.3 987.6,360.2 989.7,362.8 990.2,363.6 990.8,366.8 991.1,367.7 991.2,366.9 991.8,370.3 993.9,371.2 993.4,373.4 994.8,372.6 996.8,374.4 998.0,376.6 998.8,378.7 998.2,378.6 998.4,381.6 1000.3,381.8 1000.2,383.6 1001.1,387.0 1001.1,386.9 1001.5,388.8 1001.2,390.3 1001.8,392.0 1003.0,392.8 1001.8,396.9 1002.4,395.9 1003.1,400.2 1004.0,401.4 1004.3,402.0 1005.3,404.7 1004.4,404.0 1006.1,407.9 1006.9,408.2 1006.8,410.3 1006.9,413.4 1008.0,413.1 1008.1,413.9 1008.5,416.3 1007.5,419.0 1008.5,420.3 1010.3,421.2 1011.3,422.6 1013.5,422.0 1014.3,422.1 1015.5,424.5 1014.2,427.6 1015.7,427.4 1016.0,430.4 1015.9,431.6 1017.6,432.5 1016.7,433.6 1017.5,435.5 1018.1,438.4 1018.1,439.7 1019.2,442.5 1020.4,442.2 1020.8,444.9 1020.4,446.7 1020.7,447.8 1022.0,451.3 1022.5,450.8 1024.6,453.4 1025.7,454.1 1027.4,455.4 1028.6,459.0 1028.7,460.1 1029.8,461.8 1028.4,464.5 1029.3,465.3 1030.4,465.5 1029.6,467.8 1030.4,470.1 1030.4,473.0 1032.1,472.9 1032.9,476.0 1032.7,477.7 1033.8,478.5 1034.5,481.1 1034.9,480.2 1034.3,483.2 1034.6,486.8 1035.1,488.2 1035.0,488.2 1035.4,490.2 1035.5,492.3 1037.2,494.2 1036.1,494.6 1036.6,496.1 1037.6,497.5 1038.8,500.2 1038.9,500.8 1041.3,502.0 1041.9,506.3 1042.7,505.6 1042.9,508.5 1044.1,511.8 1044.4,513.3 1043.8,514.5 1044.5,513.6 1045.1,515.5 1045.4,518.5 1046.8,521.0 1046.6,523.1 1048.0,522.8 1047.8,526.1 1047.3,525.9 1048.8,528.5 1050.7,529.7 1051.7,531.3 1052.6,534.0 1053.2,535.0 1053.8,535.2 1055.4,536.8 1055.1,538.9 1057.1,540.5 1057.3,540.1 1058.5,540.9 1058.8,543.6 1058.6,546.0 1059.4,547.8 1060.9,547.9 1062.0,549.3 1061.5,552.6 1062.1,553.6 1062.5,554.7 1064.8,557.5 1066.7,556.3 1067.1,558.6 1067.7,559.7 1068.8,560.4 1070.5,563.6 1071.3,565.8 1070.8,568.0 1072.6,568.7 1072.8,570.7 1074.2,570.6 1074.4,573.8 1075.1,572.5 1074.5,576.6 1076.6,576.8 1076.8,578.4 1077.5,579.9 1077.1,582.3 1077.7,582.5 1079.2,584.7 1080.2,587.8 1080.4,588.4 1081.3,590.7 1081.8,591.7 1081.8,592.8 1083.7,594.6 1083.7,597.9 1084.4,599.8 1084.9,599.4 1085.5,601.5 1086.3,604.8 1086.8,605.1 1088.1,606.5 1087.6,607.0 1087.7,611.2 1089.1,612.4 1090.7,613.7 1091.1,614.9 1091.0,616.8 1091.2,619.3 1092.5,619.0 1094.1,623.2 1093.7,624.1 1095.1,625.1 1096.4,626.4 1096.6,629.8 1096.7,629.3 1098.5,630.8 1099.3,633.5 1101.0,636.7 1101.2,636.7 1103.4,638.9 1103.5,640.1 1104.4,641.6 1105.1,643.2 1106.0,643.8 1107.0,647.2 1106.8,648.5 1108.8,649.7 1109.4,650.6 1110.9,651.1 1111.0,653.5 1111.0,656.7 1111.4,655.6 1113.3,659.7 1113.6,659.3 1113.2,662.5 1114.3,663.5 1115.9,663.9 1115.6,665.3 1117.4,667.1 1117.8,670.8 1117.2,671.6 1118.5,673.5 1119.9,675.0 1119.2,677.9 1120.8,677.1 1120.8,680.3 1122.7,681.9 1123.2,682.9 1123.8,685.7 1123.8,686.3 1124.7,689.8 1124.1,689.5 1124.3,691.9 1125.5,694.2 1124.8,696.3 1125.2,697.2 1126.4,699.9 1127.5,701.4 1127.7,701.9 1129.1,703.3 1129.5,704.1 1130.3,706.0 1131.5,707.3 1131.9,710.3 1131.4,713.1 1132.1,712.2 1132.1,716.1 1134.2,716.5 1134.0,720.0 1133.2,720.5 1134.4,721.9 1136.0,724.7 1135.5,725.0 1136.4,727.3 1137.3,730.1 1138.5,730.3 1139.8,730.3 1140.4,734.1 1141.4,735.1 1141.9,737.0 1144.3,737.0 1144.9,735.9 1146.9,737.8 1147.5,738.4 1150.4,739.1 1151.9,739.5 1153.5,740.2 1153.6,743.6 1154.2,744.6 1156.0,746.6 1155.2,748.4 1156.3,747.9 1158.7,749.7 1158.6,752.0 1158.3,754.8 1159.3,755.3 1160.6,757.8 1161.5,760.1 1161.1,760.3 1162.5,761.1 1162.8,762.2 1162.5,764.9 1164.3,765.4 1164.4,768.7 1164.0,771.6 1164.0,772.7 1164.5,775.0 1165.6,776.4 1165.1,777.3 1166.9,778.0 1166.9,781.7 1165.9,783.6 1166.9,783.7 1167.8,784.3 1169.0,786.5 1169.9,788.7 1169.2,789.8 1170.3,792.1 1171.5,791.6 1174.0,789.4 1174.4,788.7 1174.3,789.8 1175.8,791.0 1175.4,792.2 1176.2,795.9 1176.6,795.9 1176.4,797.6 1176.9,800.4 1179.1,802.1 1180.2,804.0 1179.8,804.9 1181.7,803.4 1183.9,807.6 1183.8,808.5 1185.9,808.3 1187.2,808.7 1186.4,811.8 1187.5,812.4 1187.3,813.3 1188.5,815.9 1188.1,819.3 1188.6,818.7 1189.3,821.7 1189.6,823.0 1191.2,825.6 1192.3,825.1 1193.5,828.4 1194.0,831.0 1195.9,831.8 1196.7,831.9 1196.2,835.7 1198.2,835.9 1198.5,838.4 1198.5,839.3 1199.2,841.0 1201.0,842.4 1201.6,845.1 1202.6,846.7 1203.3,846.8 1203.1,850.7 1204.5,852.1 1204.0,852.3 1205.1,855.1 1205.0,856.0 1207.4,856.9 1206.7,860.9 1207.6,860.8 1208.5,863.4 1208.5,864.7 1210.2,867.3 1211.0,869.5 1211.5,868.4 1211.9,873.2 1211.8,873.5 1211.7,873.7 1212.5,875.7 1212.2,879.9 1214.3,878.8 1213.5,882.1 1214.3,883.5 1214.5,885.2 1216.0,885.4 1215.4,887.9 1217.8,888.6 1217.7,891.8 1219.0,894.5 1218.6,893.5 1218.6,896.0 1219.1,897.2 1220.0,899.6 1220.2,901.8 1221.2,902.2 1223.8,903.3 1225.0,903.4 1226.0,905.2 1225.4,907.8 1227.1,908.5 1228.0,909.8 1227.6,912.8 1227.9,914.6 1227.8,916.0 1228.5,916.9 1229.3,919.6 1230.2,919.2 1231.8,923.3 1232.3,922.7 1232.2,923.8 1233.5,926.9 1234.5,927.9 1234.3,929.8 1235.6,931.4 1237.1,933.0 1237.8,933.6 1238.5,935.2 1239.8,936.5 1239.4,939.9 1239.1,939.4 1240.7,940.8 1241.8,944.7 1241.8,946.0 1241.9,946.9 1243.7,947.2 1245.2,950.3 1245.9,951.5 1245.6,952.6 1246.0,956.3 1245.9,957.1 1246.9,958.4 1247.7,960.3 1248.7,963.5 1249.1,962.6 1249.3,966.6 1250.8,967.3 1251.1,968.6 1250.9,968.6 1252.4,971.4 1252.6,974.7 1254.1,975.9 1254.4,977.0 1254.4,979.7 1254.5,981.3 1254.4,983.6 1254.9,984.7 1256.5,984.5 1256.1,987.1 1256.1,988.6 1257.7,990.4 1260.2,990.3 1260.5,993.4 1261.4,994.0 1261.5,995.8 1260.9,997.8 1262.8,997.9 1262.5,1000.3 1262.7,1002.0 1264.2,1002.6 1266.9,1000.3 1268.8,999.9 1268.7,999.2 1269.6,996.3 1271.1,995.3 1273.1,994.9 1275.0,997.9 1276.1,997.8 1277.7,998.4 1279.8,995.5 1280.1,994.9 1281.9,994.5 1283.7,995.5 1284.5,995.5 1285.2,996.5 1286.1,999.5 1287.4,999.7 1290.2,998.4 1291.1,997.8 1292.1,998.5 1292.7,999.7 1292.2,1003.7 1294.5,1003.7 1294.5,1005.3 1295.6,1007.8 1297.1,1005.9 1298.8,1006.8 1300.3,1008.7 1300.8,1010.6 1302.8,1010.1 1303.1,1013.4 1305.2,1012.7 1305.3,1015.4 1307.3,1015.8 1308.0,1018.2 1308.6,1020.4 1309.2,1023.3 1309.0,1022.1 1310.3,1025.4 1311.9,1025.5 1314.2,1028.2 1314.6,1027.1 1317.0,1029.5 1319.3,1028.6 1319.9,1030.7 1321.9,1030.1 1323.1,1029.6 1325.3,1030.4 1327.3,1030.9 1329.4,1029.7 1329.4,1028.0 1332.0,1027.0 1334.3,1029.7 1334.0,1028.8 1335.2,1031.6 1337.0,1032.1 1340.1,1032.1 1340.8,1032.7 1342.8,1034.5 1344.7,1036.7 1346.1,1036.1 1348.1,1038.6 1348.9,1039.6 1349.9,1039.4 1350.1,1041.1 1351.3,1042.7 1352.8,1041.3 1355.1,1042.1 1355.3,1039.8 1358.1,1037.3 1358.1,1037.1 1359.5,1036.1 1360.6,1034.1 1361.1,1032.1 1363.4,1031.6 1364.1,1034.1 1366.1,1032.2 1367.6,1031.1 1368.6,1032.3 1370.1,1035.1 1372.4,1037.6 1374.1,1037.1 1375.8,1038.5 1376.0,1038.8 1377.1,1041.1 1377.9,1041.7 1379.9,1043.7 1381.1,1045.2 1382.2,1046.1 1381.9,1047.1 1383.7,1049.2 1383.2,1049.8 1384.6,1053.5 1385.2,1054.1 1386.1,1055.6 1386.5,1057.5 1385.8,1060.6 1386.3,1060.7 1386.7,1063.1 1386.7,1061.0 1387.9,1059.8 1388.4,1058.8 1389.2,1058.1 1390.2,1055.1 1391.1,1054.3 1391.2,1051.1 1392.2,1052.0 1394.0,1054.2 1394.2,1055.1 1395.8,1056.6 1395.9,1058.2 1397.9,1059.0 1398.2,1060.1 1399.3,1061.9 1401.2,1062.1 1403.0,1062.1 1404.2,1060.1 1404.4,1061.0 1405.5,1063.0 1407.2,1065.1 1408.5,1065.0 1409.8,1065.3 1412.2,1064.1 1412.5,1064.2 1414.9,1062.4 1415.2,1059.0 1417.2,1059.1 1418.4,1058.8 1418.7,1062.0 1420.2,1063.1 1421.9,1063.4 1422.4,1068.1 1422.4,1069.2 1423.2,1070.1 1424.1,1070.4 1425.6,1071.4 1425.6,1074.5 1427.2,1075.1 1428.4,1073.6 1430.2,1073.1 1431.8,1071.8 1433.2,1070.1 1435.2,1072.1"/>
<polyline stroke="#ff0000" points="420.1,1122.9 420.0,1121.8 420.7,1120.6 422.3,1118.0 423.0,1117.1 423.4,1115.4 423.8,1114.1 426.3,1112.8 428.2,1112.2 428.5,1109.1 430.1,1108.7 429.8,1108.1 431.4,1105.7 431.4,1103.7 431.4,1102.1 431.7,1100.7 433.1,1099.2 432.8,1095.6 433.5,1096.0 434.3,1093.7 435.0,1092.8 435.5,1090.0 437.2,1087.5 436.4,1087.3 438.0,1085.1 438.4,1083.6 439.3,1082.0 440.2,1082.0 441.3,1079.7 441.3,1079.3 442.0,1076.8 443.6,1075.5 443.3,1074.2 444.3,1072.0 445.0,1071.7 445.6,1068.7 446.8,1067.0 446.2,1066.8 447.8,1062.5 446.5,1063.2 448.7,1059.9 448.4,1058.6 448.5,1057.6 450.5,1054.3 450.0,1054.1 450.1,1051.6 450.5,1050.2 451.2,1047.2 452.1,1045.7 452.1,1044.1 453.5,1043.6 453.7,1041.3 454.7,1039.9 454.0,1037.5 454.5,1037.7 454.7,1035.1 456.3,1034.7 456.0,1033.1 456.7,1029.3 456.8,1028.5 456.7,1026.0 458.8,1025.3 459.7,1025.8 460.6,1022.6 459.4,1020.5 460.6,1020.3 462.3,1019.8 462.6,1016.9 463.6,1016.8 464.0,1013.4 464.9,1011.1 465.3,1011.0 466.0,1007.0 465.1,1008.4 465.6,1005.0 466.8,1003.5 468.4,1002.1 470.3,1002.4 470.5,998.3 473.0,998.0 473.5,996.8 473.3,993.9 473.2,993.8 474.0,992.0 475.7,990.1 476.1,987.0 476.0,987.7 476.8,983.5 476.2,983.7 476.7,981.7 476.8,980.1 476.9,979.8 478.7,977.5 479.4,975.3 478.2,974.1 478.8,972.6 480.2,970.1 480.9,967.5 480.3,965.3 480.8,966.7 481.3,964.7 481.5,961.2 482.6,959.6 484.0,957.5 483.5,955.8 483.1,955.7 484.3,953.4 484.4,951.7 485.6,948.7 484.7,949.1 487.0,945.1 486.3,946.8 487.5,945.1 487.3,943.3 486.8,940.0 488.8,938.0 488.5,936.7 489.0,935.0 489.5,934.8 491.3,931.3 490.6,931.7 492.0,930.2 492.5,929.0 493.5,926.6 492.9,923.2 494.7,924.3 495.4,920.8 495.2,920.0 496.1,919.8 495.4,915.1 495.7,914.1 497.1,914.4 497.7,912.3 498.4,911.6 497.7,909.8 498.7,905.8 498.8,903.9 498.8,904.4 499.4,901.7 499.2,900.3 500.9,898.7 501.2,896.3 500.8,895.5 501.7,892.4 502.2,892.7 501.9,891.4 502.3,888.6 503.3,888.3 504.7,886.2 504.3,883.7 504.1,881.5 505.4,880.4 505.3,879.5 504.6,876.7 506.5,874.8 506.5,872.5 505.0,872.0 505.8,870.7 507.1,867.1 506.8,867.0 507.5,865.1 509.1,865.2 509.8,863.4 509.4,861.5 510.6,859.2 510.8,858.6 512.8,855.8 512.4,854.0 513.5,853.7 513.5,851.6 513.2,850.8 514.0,849.7 514.0,847.8 515.8,844.2 514.9,845.3 515.2,841.4 515.0,841.4 516.0,838.6 516.3,838.5 517.5,834.6 519.2,835.6 519.4,833.1 520.1,832.9 519.7,829.0 521.6,828.1 521.8,827.0 523.1,826.4 522.5,822.5 523.0,822.3 523.3,821.2 523.4,819.9 524.0,815.8 524.8,814.1 525.3,815.1 524.2,810.9 525.1,810.3 526.4,808.5 526.6,807.8 527.3,804.0 528.5,803.6 528.9,803.2 530.1,798.9 530.0,798.0 530.8,796.5 529.3,794.7 530.5,792.5 531.4,791.3 531.6,789.3 531.5,789.1 531.8,786.9 531.7,784.5 533.6,783.2 533.1,782.3 534.3,781.5 534.6,779.8 535.8,778.3 536.3,775.9 536.0,773.5 536.7,771.5 535.8,771.6 536.8,768.0 537.3,767.7 538.2,763.9 538.5,765.0 539.2,763.4 538.5,760.2 539.1,759.8 539.5,758.0 540.7,754.8 539.4,754.4 541.5,753.2 541.0,750.2 541.8,748.3 541.9,748.0 543.0,743.9 544.3,743.5 543.7,743.3 544.6,741.1 544.1,738.4 545.7,737.7 544.8,735.1 546.2,734.9 545.0,732.1 546.0,730.1 547.4,728.9 547.7,726.1 547.7,723.5 548.8,723.7 548.1,723.3 549.3,720.1 549.3,716.9 550.8,715.3 551.2,713.9 550.4,714.2 551.9,711.8 553.2,711.1 554.4,710.1 554.4,707.9 556.3,708.2 557.5,705.8 558.9,705.8 559.4,703.4 559.1,700.7 558.9,701.3 559.6,698.7 560.5,697.3 561.7,695.6 561.0,693.4 561.2,691.7 562.1,690.1 564.0,689.6 564.6,688.9 566.2,685.4 566.5,685.3 566.9,683.4 566.4,683.4 567.7,680.6 567.8,678.1 568.1,678.3 569.4,675.0 569.3,672.2 571.5,672.4 571.5,672.2 573.1,669.1 574.0,669.4 575.2,666.0 575.2,665.0 576.3,662.4 576.0,663.4 577.2,659.7 577.3,658.1 577.7,656.7 580.2,657.6 581.9,658.3 583.1,656.8 585.2,656.9 585.1,654.2 586.9,653.3 588.4,652.6 588.4,650.8 588.2,649.0 590.0,647.1 589.9,645.6 590.9,643.3 592.0,641.3 592.5,641.4 592.1,638.9 592.8,637.1 594.9,636.0 593.7,635.8 595.2,633.7 597.8,631.9 597.9,631.8 600.2,630.4 600.8,628.9 602.3,629.4 602.9,625.9 604.6,625.3 605.2,623.7 606.6,621.8 606.7,620.4 607.3,618.7 607.0,615.7 608.1,617.1 609.0,613.7 609.5,613.0 610.2,610.4 611.2,609.0 612.5,608.6 614.1,607.7 616.4,605.8 616.9,605.3 617.7,605.3 618.6,603.2 619.4,599.3 619.6,598.1 619.7,595.7 621.2,596.8 622.0,593.4 621.9,592.0 624.1,591.7 624.8,590.3 626.4,586.3 627.5,587.2 628.5,585.3 628.8,584.7 630.1,580.6 630.2,580.3 631.7,578.6 633.3,579.0 634.2,579.6 636.9,580.3 638.2,577.8 639.5,576.5 640.1,575.3 641.0,574.8 641.8,573.2 641.9,572.0 642.3,571.9 642.6,567.9 643.7,568.0 645.8,565.5 646.2,566.2 646.9,563.6 646.9,562.8 648.3,558.7 650.0,558.2 651.1,556.9 652.5,558.2 653.4,559.0 655.4,560.9 657.8,560.3 658.4,557.6 659.2,556.6 659.0,556.1 660.4,554.8 661.8,553.0 661.9,550.3 663.6,548.1 663.6,547.5 664.4,546.6 665.4,544.8 665.9,543.0 665.7,540.6 666.4,540.2 668.1,537.4 668.6,536.9 670.0,537.7 671.3,536.2 673.6,535.5 675.3,535.2 676.2,535.4 678.1,532.6 678.4,529.6 680.6,529.1 682.0,528.5 684.4,528.4 686.1,526.9 687.3,526.9 690.3,527.7 691.6,528.8 693.8,530.1 695.3,529.4 695.6,527.8 698.3,525.3 698.1,524.8 700.3,523.5 700.6,520.5 702.7,521.4 703.2,520.3 704.2,517.3 704.5,516.0 707.0,517.2 709.3,516.7 710.4,515.2 712.6,517.6 714.6,517.3 715.4,517.7 716.9,517.5 718.7,516.0 721.0,515.6 721.2,516.8 721.9,519.3 723.4,518.7 725.4,521.0 726.6,522.9 727.5,522.8 727.8,526.2 729.5,527.7 729.8,525.2 731.6,526.9 733.6,525.5 734.8,521.7 735.4,521.9 736.3,520.6 737.1,516.6 736.0,515.0 737.1,514.4 738.2,512.5 739.3,512.6 742.0,511.8 741.5,507.9 743.7,507.7 745.7,507.8 747.9,506.0 749.9,508.2 750.1,508.3 751.4,509.8 753.8,510.2 755.8,508.4 756.3,506.5 757.9,506.8 760.0,507.6 760.0,508.9 761.0,512.3 762.9,511.9 765.3,513.0 765.7,513.8 768.3,513.3 768.4,516.5 770.5,516.9 770.9,515.4 771.3,513.7 773.8,513.1 773.8,511.0 775.9,511.4 777.0,510.1 779.6,508.5 781.6,509.5 780.7,511.8 783.6,511.6 783.8,514.4 784.0,516.6 785.1,519.2 785.8,518.6 786.0,520.6 787.5,523.1 787.4,523.3 788.4,524.2 788.8,526.9 789.7,527.7 789.6,530.2 790.7,530.2 792.7,533.5 793.4,533.6 794.5,536.8 794.0,537.9 796.3,539.3 796.7,540.2 799.1,539.6 798.8,543.4 801.9,541.4 802.5,543.6 803.5,546.5 804.8,545.3 805.1,549.7 806.7,550.3 807.4,550.4 810.2,550.8 810.9,552.8 812.5,552.5 813.1,554.6 815.8,554.9 816.7,556.1 817.5,555.1 819.2,552.8 821.6,551.5 823.3,553.7 825.9,554.4 826.7,554.4 827.6,554.6 828.0,556.2 828.1,559.4 830.1,562.7 830.1,562.8 831.6,564.2 831.6,566.4 832.3,565.5 833.4,568.6 836.0,571.0 837.6,570.3 840.5,569.9 841.8,568.6 843.6,568.8 843.7,572.4 845.6,571.4 846.8,573.6 848.3,575.6 850.1,574.8 850.1,577.4 851.8,578.6 854.2,581.1 854.3,579.7 856.8,581.1 857.9,581.3 859.6,578.0 860.7,576.3 861.8,576.1 863.8,574.4 864.4,574.2 865.6,570.3 866.8,570.3 867.9,567.5 869.4,569.7 871.0,566.9 873.2,569.7 873.6,569.8 876.0,570.3 878.0,569.0 879.4,566.7 880.2,566.9 882.4,567.1 882.3,562.7 884.3,562.8 885.8,561.5 886.7,559.9 885.9,557.4 887.5,556.1 888.8,556.1 888.5,553.6 890.6,554.3 893.0,552.1 894.4,551.9 895.6,550.4 895.5,548.1 897.0,546.6 898.5,546.9 901.4,546.9 902.7,546.9 902.5,543.9 903.7,543.3 904.4,542.3 903.2,541.8 904.4,538.6 906.5,539.2 907.8,541.2 908.5,541.9 908.8,539.3 910.4,538.8 911.9,536.9 912.3,535.5 911.8,533.1 912.4,531.5 913.6,530.2 915.6,527.5 914.6,527.2 916.3,524.8 918.3,525.9 918.6,523.5 919.9,522.4 919.8,520.4 919.8,516.9 921.1,516.9 922.5,516.5 921.6,513.6 921.8,513.0 923.9,511.8 923.6,508.5 923.3,508.5 923.9,506.0 926.2,502.4 926.0,502.9 927.0,501.3 926.9,498.5 928.1,496.9 928.7,496.1 929.9,494.1 930.3,491.8 931.8,489.4 931.6,488.1 932.3,487.5 932.6,486.6 934.4,483.5 934.0,482.3 935.5,479.4 934.4,480.1 936.5,476.8 935.5,475.1 936.5,472.2 936.8,472.5 936.9,470.1 937.0,467.9 937.9,466.0 938.7,463.8 939.4,463.4 939.9,463.3 941.5,460.5 941.2,458.7 943.2,457.8 944.1,457.1 944.4,455.1 945.7,454.1 946.9,451.8 948.0,449.9 949.9,449.9 949.7,446.1 950.9,445.8 952.0,445.1 953.7,445.3 954.4,440.8 955.3,440.0 956.1,440.8 957.0,438.4 956.4,438.4 958.4,434.9 958.1,433.1 958.4,432.0 959.6,431.9 959.3,429.6 959.1,425.8 961.2,424.2 961.3,424.5 960.4,423.2 961.8,420.3 962.7,418.7 963.9,416.7 964.3,415.3 965.4,413.9 965.7,411.7 965.4,409.8 965.3,409.9 966.5,408.4 966.8,405.3 967.6,404.5 968.0,402.0 969.2,399.0 969.2,397.0 968.8,398.6 970.1,395.3 970.0,394.9 972.8,393.2 973.6,389.9 973.9,390.1 974.3,386.9 975.1,386.9 974.9,386.3 975.8,384.2 976.5,382.4 977.0,381.9 979.0,377.7 979.3,376.9 981.6,374.9 982.0,375.6 983.5,374.4 984.7,374.5 986.9,374.3 989.3,372.8 991.4,375.4 990.9,375.0 993.2,374.7 993.0,378.4 995.2,378.6 996.0,379.2 996.6,383.0 996.2,383.8 997.6,383.8 998.0,388.5 999.0,390.3 998.5,390.3 999.6,393.4 999.1,392.9 1000.3,394.4 999.7,397.3 1000.4,400.1 1001.0,400.3 1000.7,401.5 1002.6,403.0 1002.7,405.4 1003.6,405.8 1003.2,408.0 1004.0,411.8 1004.0,412.0 1004.7,415.2 1005.3,415.2 1004.4,415.5 1004.9,418.1 1005.6,421.9 1005.8,421.0 1006.0,423.7 1007.0,424.9 1006.9,427.6 1007.1,427.3 1006.3,431.2 1007.3,432.5 1007.7,433.7 1008.7,433.4 1009.9,434.5 1009.3,437.5 1009.3,438.4 1009.5,440.9 1010.3,440.8 1011.2,444.4 1011.9,444.8 1012.1,446.7 1011.5,448.2 1011.5,450.0 1011.9,452.3 1013.6,452.9 1014.1,455.4 1013.2,456.9 1014.1,459.3 1013.7,460.1 1014.9,463.2 1013.8,464.8 1015.6,464.6 1015.5,466.6 1015.2,468.3 1016.8,469.6 1016.2,471.8 1015.7,474.5 1016.4,473.5 1016.7,475.8 1017.8,477.1 1018.8,480.9 1019.3,483.2 1018.7,483.5 1020.2,486.7 1019.7,488.0 1020.5,489.9 1020.5,490.6 1022.1,491.8 1022.9,494.7 1023.1,495.9 1024.2,498.5 1025.4,498.1 1026.2,500.2 1027.6,502.4 1027.8,504.1 1028.2,506.0 1029.1,507.6 1028.3,509.1 1030.8,510.9 1030.4,511.9 1031.1,512.2 1031.5,515.0 1031.4,516.2 1032.2,516.9 1033.2,521.2 1033.8,521.9 1034.7,525.0 1036.0,525.7 1035.2,525.3 1036.7,527.1 1037.6,531.4 1037.9,531.9 1038.6,532.4 1039.3,536.2 1040.8,535.4 1042.1,537.8 1042.9,538.6 1043.6,540.6 1043.8,540.8 1045.1,543.9 1046.2,544.6 1047.1,546.9 1047.6,546.7 1049.2,550.9 1050.1,551.9 1050.0,551.9 1051.2,552.7 1052.1,555.3 1052.3,557.7 1054.4,559.2 1056.0,559.1 1055.9,560.0 1057.7,562.7 1058.8,563.6 1060.1,563.7 1061.6,564.2 1063.8,565.3 1065.1,565.8 1066.1,567.3 1069.2,567.2 1070.8,567.6 1071.8,569.2 1073.4,568.3 1075.0,571.5 1075.7,571.1 1075.1,574.3 1075.8,574.8 1076.8,576.7 1077.0,579.4 1077.1,578.4 1078.9,582.0 1079.3,582.6 1077.9,583.5 1079.3,586.7 1080.1,587.8 1080.2,591.5 1082.7,590.8 1083.3,595.0 1083.4,595.1 1085.0,595.5 1085.3,597.2 1086.5,600.5 1089.1,600.8 1090.1,601.7 1092.2,602.5 1091.9,605.1 1093.3,605.2 1095.1,606.7 1096.7,610.0 1096.2,609.6 1097.1,611.2 1096.8,612.1 1098.5,615.1 1099.4,616.6 1101.4,617.1 1100.9,618.5 1102.6,621.8 1103.7,621.5 1105.8,623.2 1108.0,624.0 1108.6,625.6 1110.2,626.8 1111.3,627.5 1110.6,631.1 1111.6,632.3 1113.2,633.7 1113.5,635.1 1114.9,636.1 1116.5,637.6 1116.8,640.1 1118.5,641.2 1118.8,643.4 1118.9,644.1 1120.2,646.8 1121.2,650.1 1122.2,651.1 1124.1,651.1 1124.3,653.5 1125.5,653.5 1127.3,656.9 1126.9,658.6 1128.5,658.5 1130.0,660.0 1130.8,661.1 1132.3,661.9 1132.7,663.5 1133.6,661.3 1135.2,660.2 1135.6,662.8 1137.0,661.6 1138.5,663.4 1140.6,664.3 1141.0,666.8 1142.1,669.0 1141.1,669.5 1143.2,672.2 1143.0,674.1 1143.5,675.2 1145.7,678.0 1145.7,676.7 1147.7,679.1 1148.5,680.2 1150.5,682.9 1151.5,681.4 1151.5,685.7 1153.9,684.4 1153.1,688.7 1155.2,688.5 1155.4,690.6 1157.9,691.9 1158.0,692.5 1158.6,692.3 1160.2,695.2 1160.9,695.6 1163.6,698.6 1165.3,698.9 1166.0,701.2 1166.4,704.2 1166.9,705.2 1167.1,705.3 1168.0,709.4 1169.3,709.3 1170.0,711.8 1171.1,713.6 1173.2,714.9 1173.9,714.6 1175.4,717.7 1175.4,720.2 1176.9,720.3 1176.9,720.4 1179.0,725.0 1178.4,724.6 1180.0,726.2 1180.3,728.6 1181.4,729.2 1183.3,731.1 1183.6,733.6 1184.0,736.5 1185.0,737.5 1184.2,737.2 1185.2,740.5 1185.9,742.0 1185.9,744.0 1186.1,745.3 1187.3,748.2 1186.1,750.0 1187.1,749.1 1186.9,751.1 1188.1,753.3 1188.6,755.3 1190.5,757.0 1192.7,755.3 1193.6,757.0 1194.0,759.0 1196.6,760.3 1196.9,760.4 1198.6,762.0 1200.1,763.5 1199.7,765.6 1201.2,766.3 1201.2,769.8 1202.0,770.4 1203.1,770.7 1203.9,773.6 1204.3,775.6 1205.3,777.0 1205.5,779.4 1206.4,779.5 1208.4,780.8 1209.5,783.7 1209.8,783.9 1210.3,788.7 1209.6,790.3 1211.3,791.2 1210.5,791.0 1211.7,794.6 1212.0,795.4 1211.7,795.5 1214.0,799.6 1214.3,798.7 1213.4,802.4 1215.5,802.8 1215.3,805.4 1216.6,807.6 1216.8,808.3 1217.7,810.3 1218.1,811.9 1219.1,812.7 1219.7,816.3 1220.2,816.7 1220.1,817.2 1222.3,821.0 1221.6,820.7 1223.7,822.4 1223.5,825.0 1224.0,825.0 1225.8,829.2 1228.8,828.6 1229.3,830.1 1230.5,833.0 1230.6,832.1 1232.0,835.3 1234.0,836.7 1234.4,836.7 1235.5,836.9 1235.1,839.6 1234.6,843.4 1235.6,842.3 1236.4,843.5 1236.9,846.7 1237.6,848.5 1239.0,849.6 1237.9,851.7 1240.3,854.0 1240.2,855.1 1241.2,856.6 1240.8,858.2 1241.9,860.4 1241.8,862.5 1242.7,863.4 1243.0,866.4 1244.1,866.7 1243.3,868.6 1243.8,870.5 1244.4,871.8 1244.7,872.5 1244.8,874.1 1245.4,876.3 1246.9,878.5 1248.2,879.0 1249.5,881.8 1250.0,885.1 1250.2,885.1 1251.5,887.3 1250.9,888.6 1252.4,890.9 1253.8,891.2 1253.6,893.5 1254.3,896.6 1255.7,895.5 1255.6,898.8 1257.9,900.6 1257.7,901.8 1258.8,904.9 1260.5,906.6 1261.0,907.4 1261.9,908.5 1262.9,909.6 1263.5,910.5 1265.0,914.4 1264.8,913.5 1266.3,916.0 1266.9,918.5 1267.2,918.7 1268.6,920.4 1269.7,924.7 1271.1,925.2 1272.5,928.1 1273.4,928.4 1273.4,931.6 1274.4,931.9 1275.3,933.5 1275.6,934.6 1276.6,936.3 1278.6,936.9 1279.8,938.7 1280.8,939.8 1281.5,940.6 1282.8,943.6 1284.4,946.1 1285.4,946.6 1286.9,946.9 1287.5,948.6 1288.6,949.9 1288.0,953.5 1288.6,953.2 1289.4,955.3 1289.9,956.6 1290.4,959.0 1292.2,961.5 1293.1,963.6 1292.8,963.6 1294.7,963.7 1296.1,965.4 1297.3,965.0 1298.6,966.9 1300.2,967.7 1301.8,969.8 1303.6,970.3 1304.4,971.0 1305.4,973.5 1305.6,973.2 1308.2,974.5 1308.6,977.0 1309.7,978.1 1311.2,979.7 1312.3,980.0 1313.7,981.1 1314.0,981.8 1314.0,982.7 1315.0,984.0 1317.1,987.9 1317.0,988.6 1317.7,990.3 1317.0,990.9 1318.8,994.5 1319.0,996.4 1319.5,997.0 1319.5,998.8 1320.5,1001.1 1322.2,1001.8 1322.1,1002.3 1323.7,1005.3 1324.3,1006.4 1324.8,1008.0 1326.9,1011.1 1327.0,1012.0 1329.6,1013.7 1330.4,1013.7 1330.2,1014.2 1331.5,1016.5 1333.5,1018.5 1333.7,1020.4 1335.8,1022.6 1336.4,1024.6 1337.0,1025.4 1338.0,1027.1 1341.3,1026.2 1342.0,1027.0 1344.2,1028.1 1346.2,1026.0 1347.0,1025.4 1348.0,1024.8 1348.2,1021.8 1349.4,1021.2 1350.1,1021.3 1352.1,1018.7 1354.5,1016.2 1355.4,1017.0 1356.7,1016.7 1358.7,1017.9 1360.1,1018.7 1360.6,1020.2 1362.1,1022.0 1365.1,1022.1 1367.7,1021.4 1369.1,1024.1 1370.1,1024.4 1372.2,1028.1 1373.1,1028.1 1373.9,1029.2 1375.7,1031.4 1376.1,1032.1 1377.8,1033.2 1377.3,1035.7 1379.1,1037.1 1379.6,1039.8 1382.2,1038.8 1382.2,1041.1 1383.4,1040.4 1385.7,1043.9 1386.2,1044.1 1387.4,1045.6 1389.0,1046.2 1390.2,1047.1 1392.9,1049.1 1394.2,1049.1 1395.1,1049.6 1395.3,1052.2 1397.2,1054.1 1398.4,1052.3 1398.8,1052.2 1400.2,1050.1 1401.2,1048.3 1403.8,1046.7 1404.2,1047.1 1405.3,1049.0 1407.2,1050.1 1407.7,1052.8 1408.7,1051.9 1410.2,1054.1 1411.6,1054.9 1413.2,1056.1 1413.8,1055.0 1415.4,1054.1 1417.2,1052.1 1419.5,1050.0 1419.6,1051.2 1421.2,1049.1 1422.1,1050.4 1423.4,1051.4 1425.2,1053.1 1427.2,1054.3 1427.2,1056.1"/>
<polyline stroke="#00009b" points="427.6,1087.0 429.4,1085.4 429.7,1085.0 430.1,1082.8 431.4,1082.0 434.0,1082.8 435.5,1086.0 437.6,1085.3 438.9,1082.3 437.9,1081.0 439.9,1078.7 439.3,1077.3 439.6,1077.0 440.9,1075.3 442.0,1074.4 444.7,1074.9 445.9,1073.6 446.2,1072.9 447.0,1071.4 446.8,1068.2 448.0,1068.5 448.5,1065.2 448.2,1062.9 448.6,1063.6 450.4,1061.6 450.1,1058.6 450.7,1057.6 450.7,1055.2 450.8,1053.3 451.5,1050.6 453.4,1048.9 453.6,1049.3 453.5,1046.9 452.9,1045.2 455.0,1045.2 454.4,1042.8 455.0,1039.5 454.9,1038.9 454.9,1038.0 455.3,1036.1 454.8,1033.4 456.0,1031.9 456.5,1031.1 459.6,1029.5 460.5,1028.5 461.8,1026.9 461.8,1024.8 463.0,1024.0 463.1,1021.8 463.5,1020.4 464.8,1017.9 465.3,1018.0 465.5,1016.8 466.0,1013.5 466.3,1013.3 466.8,1009.7 468.8,1006.9 469.1,1008.1 470.5,1005.8 470.0,1002.9 471.0,1001.8 471.4,998.7 470.4,999.8 471.8,995.7 471.6,994.4 472.7,992.8 472.6,992.6 471.9,989.3 472.5,988.1 472.7,986.8 473.3,984.6 474.1,983.2 473.2,982.7 475.1,980.7 474.8,979.7 476.0,975.1 475.6,973.5 475.7,972.6 476.3,972.4 476.8,970.1 478.0,967.6 476.7,968.5 478.7,965.3 477.7,961.9 479.8,961.9 480.1,961.1 480.3,959.5 479.7,955.9 480.4,956.0 481.6,954.3 481.6,951.7 481.8,950.1 481.5,949.0 482.8,946.8 483.3,946.7 484.1,942.1 483.1,942.1 484.2,939.3 485.1,938.3 485.0,935.2 484.4,933.4 485.2,933.4 486.3,931.8 487.2,930.4 486.5,927.9 487.1,925.7 487.2,925.6 488.1,923.2 489.5,920.9 489.5,919.4 490.2,918.4 490.3,917.3 490.4,914.7 490.9,913.9 491.8,913.3 492.7,910.6 493.2,909.4 494.1,907.2 493.2,903.8 495.2,903.0 495.2,901.7 496.9,900.7 496.8,898.7 497.7,897.9 498.2,895.9 498.4,893.5 497.3,890.7 497.5,891.7 498.6,887.2 497.6,886.9 498.9,884.9 498.1,882.9 500.1,882.8 500.2,879.6 500.2,877.7 500.1,877.0 500.2,877.1 500.5,873.3 501.0,873.7 502.4,871.2 503.3,869.3 503.9,868.8 503.1,865.4 504.1,864.6 505.1,863.8 505.5,862.1 505.0,861.0 505.9,858.7 507.2,857.5 506.9,854.4 506.0,853.5 507.2,852.8 507.3,850.5 506.8,847.1 507.1,846.4 507.6,844.1 508.4,843.7 508.6,841.4 510.1,841.8 511.0,839.5 509.5,836.1 512.0,836.0 512.2,832.6 511.4,830.6 512.5,829.8 512.9,827.4 513.5,827.0 512.9,824.9 515.2,824.1 514.9,820.5 515.0,819.8 515.8,818.3 516.6,816.2 516.8,813.6 516.1,814.6 517.9,811.3 517.6,810.3 517.5,810.2 518.9,805.5 520.2,805.5 519.3,803.6 520.0,802.2 520.6,799.8 521.8,797.9 521.8,796.9 522.9,796.1 523.5,792.4 523.8,792.6 522.8,791.6 523.9,787.5 523.7,788.6 525.3,784.3 525.1,783.6 526.4,780.3 526.4,780.7 527.1,779.9 527.3,778.0 527.2,776.7 527.5,774.3 528.6,771.5 528.5,770.2 529.6,769.3 528.6,767.2 529.7,765.5 529.2,764.2 530.4,762.7 531.0,760.2 531.3,756.9 532.6,757.3 534.1,755.3 534.3,753.5 535.4,750.7 534.1,749.8 535.5,749.4 534.5,747.2 535.4,745.3 536.0,743.5 536.2,740.7 538.4,739.6 540.1,738.5 540.2,736.8 540.2,734.1 540.9,733.5 540.7,733.4 541.5,731.1 541.8,728.5 543.3,727.9 543.1,726.7 545.2,722.3 546.0,721.8 546.5,718.6 546.4,717.1 545.8,716.6 547.7,716.0 548.2,714.4 547.8,712.1 548.7,708.8 548.1,708.6 547.3,708.0 548.5,705.1 549.7,703.2 550.8,702.2 551.5,701.1 552.6,699.5 551.9,699.0 553.5,696.7 553.9,695.6 556.4,694.7 555.6,693.7 558.4,691.1 557.9,689.7 559.4,688.4 559.7,685.2 560.6,685.5 559.9,684.5 559.7,683.0 561.3,680.0 560.0,678.2 561.0,676.7 561.2,675.5 562.3,674.0 563.8,671.9 565.1,671.3 566.7,669.6 566.9,668.4 567.5,667.5 567.2,665.2 567.7,663.3 568.9,663.1 569.4,660.0 570.7,657.7 570.9,656.2 570.1,655.3 570.6,654.9 572.3,650.1 571.9,650.0 572.6,648.7 574.0,648.4 572.7,646.0 574.0,642.6 574.7,640.4 574.4,640.4 575.7,638.4 575.1,637.0 576.0,635.1 575.6,634.9 576.8,632.1 577.0,629.6 577.9,630.9 578.4,628.3 580.3,625.6 581.5,624.0 581.8,623.7 581.9,620.4 583.8,618.8 584.5,619.2 584.3,618.6 586.0,615.4 586.1,613.1 588.3,611.2 589.0,611.0 589.8,608.3 589.7,606.9 591.0,605.3 591.9,602.1 591.5,601.2 592.1,601.2 594.6,598.7 594.3,597.0 595.0,595.5 597.2,595.3 597.6,593.7 598.5,592.0 601.0,591.3 601.2,591.1 603.5,588.6 603.7,586.0 605.1,585.5 607.0,585.6 607.5,584.4 610.1,583.0 610.2,580.3 611.4,578.9 611.2,575.8 611.6,574.4 612.1,572.2 613.9,571.7 613.5,570.3 613.5,567.3 615.1,565.5 616.4,564.6 617.1,563.1 617.5,563.2 618.5,560.3 619.3,560.0 620.6,557.8 621.5,555.5 621.5,554.2 622.7,551.9 622.6,549.7 625.0,550.3 624.2,548.7 625.9,545.4 627.7,545.2 627.7,543.6 628.7,545.8 629.7,545.9 632.6,546.9 633.6,546.9 634.5,544.9 635.0,545.1 636.6,541.3 638.0,542.3 638.6,540.2 640.8,539.3 642.3,538.9 644.2,536.9 645.2,536.9 645.9,536.8 647.3,532.8 649.4,534.1 650.3,531.9 651.9,532.1 651.3,530.5 652.7,526.4 653.6,524.8 654.0,523.5 656.1,521.8 656.9,521.9 658.9,518.9 659.3,518.2 660.5,516.4 662.8,516.9 664.2,516.5 664.8,517.4 666.9,520.2 668.9,517.8 669.3,518.6 670.0,516.0 672.0,515.2 674.3,515.6 675.3,515.2 675.2,516.9 677.3,518.7 676.8,519.2 678.8,521.5 678.6,523.5 679.7,522.2 682.2,523.6 683.6,521.9 685.6,523.4 686.7,523.2 688.6,525.2 691.0,524.7 692.1,526.0 694.5,525.2 696.3,524.9 695.7,523.1 697.6,519.2 699.1,519.3 699.5,517.7 701.4,517.1 703.5,519.3 705.3,520.2 707.7,521.6 707.9,521.6 710.4,520.2 711.0,519.9 712.5,524.0 713.5,523.2 714.2,527.2 715.4,526.7 715.4,528.5 717.2,528.9 718.4,532.2 718.7,533.6 720.3,535.7 720.7,535.1 721.6,538.0 723.7,538.6 724.6,537.6 727.8,539.8 730.3,539.2 731.2,541.1 731.7,538.5 732.7,539.5 733.4,535.1 733.4,535.0 732.5,533.0 734.2,532.4 734.1,528.7 734.6,528.5 734.8,529.6 735.2,533.4 736.2,534.0 735.5,534.7 737.5,535.7 736.4,537.8 737.9,540.2 737.8,538.8 738.9,538.0 740.5,534.8 741.4,534.8 741.2,531.9 743.0,535.0 743.7,536.4 743.7,538.1 744.1,538.6 744.4,541.2 746.2,541.1 747.2,538.0 748.3,538.5 747.7,536.5 749.4,536.4 748.3,532.5 749.6,531.9 749.8,532.0 750.5,535.5 752.4,537.8 753.6,539.2 753.8,540.2 756.3,539.4 758.1,541.7 759.3,543.1 760.4,543.6 762.6,544.1 763.1,543.7 764.5,544.8 767.6,542.9 768.8,543.6 769.3,541.3 769.7,540.4 771.7,538.0 772.1,536.9 772.3,539.8 773.1,539.0 772.4,543.3 773.5,542.4 773.4,544.8 773.8,546.9 775.3,549.4 776.9,548.7 777.0,549.3 778.8,551.9 779.3,553.8 781.1,554.6 782.3,554.6 782.1,556.1 783.8,558.6 785.9,558.0 786.9,557.6 788.8,555.3 789.5,558.2 791.9,557.1 792.6,560.1 793.4,561.1 794.5,560.3 795.9,560.8 798.4,561.1 799.7,558.6 800.6,556.8 800.9,555.3 802.3,556.4 803.2,559.1 804.0,559.5 805.0,561.9 805.0,559.1 806.9,558.7 807.5,556.9 807.7,559.0 808.7,558.4 811.3,560.7 811.4,562.8 812.6,563.6 813.2,564.7 814.7,567.5 814.4,568.4 815.1,570.3 816.9,570.3 818.2,567.1 820.1,566.9 822.6,565.3 822.4,568.3 824.8,569.6 824.6,570.8 825.1,572.0 826.8,571.6 827.5,573.8 829.2,575.3 830.0,574.0 832.9,573.4 833.4,571.1 834.5,569.8 837.0,569.1 837.6,567.8 838.8,567.4 840.2,567.1 842.6,565.3 842.7,563.2 843.9,560.8 843.6,559.0 843.7,558.1 844.3,556.9 846.6,557.0 846.5,554.0 848.4,554.4 848.6,555.9 850.4,559.2 850.9,558.3 851.8,561.1 852.0,560.0 854.4,559.4 855.1,556.9 855.8,556.9 857.1,559.7 859.3,561.1 861.6,559.5 862.1,557.6 864.3,557.8 865.4,558.7 866.8,561.0 867.6,562.8 868.6,560.1 869.1,559.8 870.0,557.5 869.6,555.7 871.0,555.3 872.1,554.9 872.7,551.9 873.6,553.5 874.3,556.3 874.8,554.7 876.0,557.8 877.8,556.6 880.2,556.9 879.9,554.6 881.2,554.9 880.2,550.2 881.0,550.4 881.8,547.7 882.7,545.6 884.5,543.7 885.6,541.8 886.8,541.9 887.1,541.4 888.2,539.0 888.4,535.7 890.2,535.2 890.2,533.6 890.5,532.3 892.1,531.3 891.7,530.4 892.7,527.0 893.5,526.0 894.4,527.2 896.9,525.2 897.8,527.5 898.5,529.4 899.7,526.1 898.8,524.3 899.5,522.3 900.7,522.1 900.2,520.2 901.9,520.2 903.1,517.0 903.6,517.0 904.4,515.2 906.9,516.1 907.7,518.5 909.4,518.4 910.6,514.8 911.9,515.2 913.9,514.7 914.5,516.7 916.1,518.5 916.3,518.2 917.7,516.5 917.8,511.9 917.6,512.0 917.7,510.2 918.9,508.3 920.0,505.3 920.9,506.5 921.0,503.7 921.9,501.8 921.4,501.3 923.3,497.1 923.0,495.6 924.3,496.0 924.4,493.6 924.7,490.9 924.4,490.2 925.1,488.8 926.5,486.3 925.5,485.1 926.6,482.4 927.3,483.1 928.6,480.1 928.9,477.9 929.2,477.1 930.0,475.7 931.1,474.6 930.7,471.8 932.1,470.9 931.9,468.4 931.9,466.8 933.1,465.5 933.5,463.9 934.8,462.2 935.8,459.6 936.1,458.4 936.6,455.5 938.4,456.7 938.5,453.5 939.4,453.7 941.1,450.9 942.5,451.2 943.2,447.6 944.3,446.6 945.3,445.9 947.0,446.2 949.2,443.7 951.1,444.2 951.4,443.7 952.5,442.4 953.5,438.0 953.1,438.7 953.8,436.3 955.2,434.1 955.3,433.4 955.0,430.8 956.3,430.4 956.2,427.3 958.2,427.8 958.4,425.3 959.1,424.3 959.1,423.4 958.9,421.3 960.1,418.7 961.4,417.9 962.7,414.6 962.3,413.6 963.4,412.0 964.5,410.7 966.8,409.3 968.4,408.6 969.8,406.0 970.2,406.0 970.2,405.0 971.9,400.6 971.8,400.3 972.5,399.1 974.7,398.3 975.1,396.1 977.6,396.0 979.3,394.5 980.2,397.2 980.1,397.8 981.8,398.6 983.1,397.4 984.3,396.1 984.5,396.4 986.9,399.8 987.6,401.1 989.1,402.7 989.4,404.1 991.8,405.3 993.9,404.0 994.9,400.3 995.2,400.3 996.8,402.0 998.0,403.6 997.6,406.5 997.3,407.5 998.7,410.2 998.5,410.3 999.1,411.3 998.9,412.0 999.4,413.7 1001.4,417.9 1001.0,418.7 1003.0,420.4 1002.5,420.2 1004.8,423.6 1005.2,423.7 1004.6,425.9 1005.2,425.6 1005.2,428.2 1005.1,431.5 1006.8,432.1 1005.7,434.3 1006.7,436.1 1007.6,437.8 1007.5,439.4 1007.8,439.1 1007.5,441.5 1006.8,443.9 1008.3,445.8 1007.9,446.7 1007.8,447.6 1010.1,448.7 1009.8,450.9 1010.0,454.4 1010.6,456.2 1012.1,456.8 1012.4,458.9 1012.7,460.9 1013.7,462.7 1014.5,464.7 1014.7,464.1 1015.4,466.8 1015.1,468.7 1017.1,470.4 1016.4,472.5 1018.9,473.3 1018.7,475.1 1019.6,475.3 1021.9,478.0 1022.1,480.1 1021.4,480.9 1022.0,485.0 1023.8,486.5 1022.9,485.3 1023.7,488.5 1024.1,490.8 1024.9,491.3 1026.5,493.4 1026.3,494.5 1027.9,496.8 1027.8,498.6 1027.9,499.1 1028.5,501.0 1029.3,502.3 1029.5,505.2 1030.4,506.8 1031.5,509.4 1033.3,508.9 1033.0,511.1 1033.9,510.8 1035.4,513.5 1036.6,513.5 1035.4,518.1 1036.9,519.2 1036.8,520.4 1037.6,521.9 1038.6,524.6 1037.9,525.2 1039.1,527.6 1041.3,527.0 1042.9,528.5 1043.9,531.9 1045.1,531.7 1045.5,533.1 1046.9,534.7 1047.1,536.9 1048.4,538.1 1049.4,541.3 1048.4,541.2 1049.7,543.5 1050.5,545.2 1052.2,547.1 1053.8,548.6 1055.1,550.0 1054.4,552.7 1054.9,553.2 1055.6,556.8 1057.5,556.4 1058.0,558.6 1059.0,559.0 1059.2,560.7 1060.2,563.1 1062.1,565.3 1063.1,567.3 1064.0,569.4 1064.6,568.3 1066.3,571.0 1067.1,572.0 1067.6,572.5 1069.3,574.1 1068.9,577.6 1070.1,578.4 1071.9,579.9 1072.1,580.7 1071.9,584.0 1073.9,584.0 1075.2,585.5 1075.1,586.7 1076.6,586.6 1077.8,589.3 1081.0,588.0 1081.8,590.1 1082.0,592.4 1083.0,593.1 1085.7,592.6 1085.0,596.4 1086.8,596.7 1087.0,597.8 1089.1,599.4 1088.4,602.5 1090.3,600.6 1091.9,602.8 1091.8,605.1 1092.6,608.1 1094.5,610.0 1095.2,611.7 1096.0,611.8 1095.9,613.8 1097.4,615.1 1098.7,618.1 1097.9,619.0 1099.1,619.2 1100.1,621.8 1100.8,622.3 1102.7,625.5 1103.5,625.1 1103.4,626.8 1104.8,628.0 1105.1,630.1 1106.6,631.9 1107.0,634.2 1108.7,635.8 1109.6,636.8 1110.2,636.8 1110.6,640.1 1111.9,641.2 1112.8,642.2 1114.3,643.5 1114.6,646.4 1116.4,645.7 1116.9,650.0 1117.5,649.3 1116.5,652.9 1117.7,653.5 1118.8,655.5 1120.4,656.0 1121.3,658.6 1121.8,660.2 1122.8,660.1 1124.1,664.3 1124.7,665.8 1124.9,665.3 1126.8,666.8 1128.2,668.5 1127.1,670.1 1128.8,671.7 1129.5,672.9 1128.4,676.8 1129.3,676.9 1131.3,678.2 1130.6,680.9 1131.4,682.6 1132.4,681.7 1135.0,682.5 1135.2,685.2 1136.2,684.3 1138.5,685.2 1140.5,686.5 1141.3,687.2 1142.6,690.2 1142.9,690.9 1144.4,691.9 1146.0,693.6 1146.4,693.8 1147.2,697.9 1147.2,699.9 1147.9,698.6 1149.4,701.9 1149.4,702.0 1151.4,705.4 1151.7,708.1 1151.2,708.3 1152.4,710.1 1153.6,711.9 1154.7,711.6 1155.8,713.3 1158.6,714.4 1159.4,716.9 1160.2,718.6 1161.1,718.9 1161.6,723.4 1162.6,723.7 1163.6,725.3 1164.1,726.5 1163.7,728.8 1165.9,731.6 1165.1,731.9 1165.4,733.8 1167.0,735.5 1166.9,737.0 1167.3,738.0 1168.0,739.9 1169.6,740.4 1171.1,743.6 1172.1,745.5 1172.2,746.4 1172.4,748.9 1174.0,750.0 1174.1,752.2 1175.3,753.7 1175.6,756.1 1175.3,758.4 1177.6,760.4 1176.4,760.5 1177.8,762.0 1178.5,762.8 1180.1,765.8 1181.1,766.7 1181.9,767.0 1183.3,768.1 1182.1,769.8 1183.7,770.6 1184.5,773.8 1184.7,774.0 1185.3,777.0 1187.1,777.1 1186.2,781.6 1188.6,783.1 1188.6,783.7 1190.4,783.5 1191.6,787.7 1191.9,788.7 1192.1,789.3 1193.6,790.4 1194.6,792.4 1195.7,795.2 1197.0,795.4 1197.8,796.1 1199.2,798.8 1199.4,799.2 1201.1,800.4 1202.8,801.2 1202.4,805.3 1203.6,805.7 1203.6,807.1 1204.6,807.3 1204.2,811.9 1205.9,811.0 1206.8,813.4 1207.3,816.4 1208.4,817.5 1208.4,819.4 1210.0,820.5 1211.0,821.7 1212.5,821.7 1213.3,824.1 1213.8,825.2 1215.7,825.4 1216.0,828.4 1216.9,828.2 1218.1,829.8 1219.1,833.6 1220.2,833.4 1221.9,833.8 1222.1,835.3 1222.7,839.3 1224.3,840.1 1224.8,840.7 1225.2,844.7 1225.0,845.1 1226.0,845.1 1227.3,847.2 1226.8,850.1 1226.9,850.6 1228.6,853.9 1228.2,853.6 1229.5,855.7 1230.2,858.4 1231.4,858.2 1231.2,860.6 1232.8,863.9 1234.3,864.1 1234.1,865.5 1235.2,866.8 1235.2,869.0 1236.8,869.8 1237.9,872.9 1238.5,873.5 1239.2,874.9 1241.6,876.2 1242.3,875.9 1244.4,876.8 1246.2,878.2 1246.6,881.7 1247.7,881.8 1248.7,882.0 1249.7,886.7 1249.3,887.8 1249.0,889.2 1250.2,890.2 1251.8,892.7 1251.1,893.2 1253.7,896.0 1253.7,896.7 1254.4,898.5 1255.3,899.6 1256.7,901.2 1257.6,903.4 1258.3,904.8 1258.6,906.8 1259.1,906.8 1261.0,908.3 1261.6,912.4 1263.0,913.6 1263.6,913.5 1264.3,913.9 1263.8,918.2 1263.5,918.0 1264.5,920.2 1265.2,922.2 1265.6,925.1 1265.2,925.2 1266.9,925.9 1266.2,927.4 1267.6,931.4 1268.7,932.9 1268.0,933.9 1269.4,935.2 1269.1,937.5 1269.8,939.4 1270.7,940.6 1271.7,942.3 1271.9,943.6 1273.7,944.7 1273.8,946.6 1274.0,948.5 1275.3,950.3 1276.5,950.9 1276.8,951.9 1277.0,953.0 1277.6,955.5 1280.4,956.4 1280.3,958.6 1281.2,959.9 1280.7,961.0 1283.0,964.5 1282.8,965.1 1283.6,966.9 1284.3,967.5 1287.8,969.1 1288.6,970.3 1290.3,970.1 1289.7,973.5 1290.7,975.8 1293.4,976.1 1293.6,977.0 1295.4,979.1 1295.7,979.7 1296.4,980.4 1297.0,983.6 1298.5,984.2 1299.3,986.5 1299.7,988.2 1300.3,990.3 1301.2,991.7 1302.4,993.4 1305.0,995.1 1305.3,995.3 1306.9,995.5 1307.1,997.2 1308.6,999.5 1309.5,999.1 1311.9,1000.2 1313.7,1000.3 1314.8,1001.5 1315.0,1004.9 1315.5,1005.9 1316.9,1007.2 1317.0,1008.7 1318.4,1009.0 1317.9,1012.4 1318.9,1012.8 1319.9,1017.0 1319.5,1017.0 1319.9,1017.7 1321.9,1018.7 1323.0,1022.0 1323.4,1021.8 1324.5,1023.7 1325.9,1024.8 1326.5,1028.6 1327.8,1027.5 1328.9,1028.9 1328.7,1032.1 1331.1,1033.8 1331.6,1031.7 1334.1,1033.1 1336.1,1033.7 1336.6,1034.6 1338.1,1036.1 1340.7,1035.2 1342.2,1037.5 1343.1,1038.1 1343.4,1039.0 1345.6,1041.7 1345.3,1040.9 1347.1,1043.1 1348.5,1045.2 1349.8,1045.9 1351.6,1044.4 1352.1,1047.1 1354.0,1046.9 1354.2,1049.6 1355.1,1051.1 1356.9,1050.9 1359.1,1049.1 1360.1,1047.7 1361.9,1046.5 1362.1,1045.1 1364.1,1048.2 1364.3,1049.3 1365.1,1050.1 1366.1,1053.0 1366.7,1052.1 1368.9,1054.7 1369.1,1056.1 1369.3,1056.7 1371.8,1058.5 1372.4,1061.8 1373.1,1062.1 1373.9,1062.4 1376.1,1062.9 1378.1,1065.1 1378.8,1064.8 1382.4,1065.8 1383.2,1068.1 1384.1,1069.4 1385.2,1071.2 1385.2,1074.1 1386.1,1075.6 1387.7,1077.1 1389.1,1074.1 1389.4,1073.7 1391.2,1073.1 1391.7,1071.9 1394.2,1071.1 1395.2,1069.6 1398.2,1069.1 1398.6,1065.5 1400.2,1065.1 1400.8,1067.6 1402.3,1069.0 1403.2,1070.1 1403.8,1072.9 1405.0,1074.8 1404.5,1075.0 1406.2,1077.1 1408.5,1078.3 1410.2,1079.1 1410.3,1079.8 1411.7,1082.0 1413.2,1084.2 1414.3,1084.4 1416.2,1082.2 1419.2,1082.2 1422.2,1083.2 1425.0,1081.2 1427.2,1082.3 1428.2,1081.2 1429.6,1081.8 1431.4,1084.2 1432.6,1082.6 1434.2,1084.2 1435.9,1086.4 1438.2,1086.2 1439.1,1086.8 1440.6,1089.8 1442.3,1090.2"/>
</g>
<g fill="#000" shape-rendering="crispEdges">
<rect x="255" y="106" width="5" height="1192"/>
<rect x="233" y="1284" width="1520" height="5"/>
<rect x="245" y="1205" width="12" height="5"/>
<rect x="233" y="1127" width="24" height="5"/>
<rect x="245" y="1048" width="12" height="5"/>
<rect x="233" y="970" width="24" height="5"/>
<rect x="245" y="891" width="12" height="5"/>
<rect x="233" y="813" width="24" height="5"/>
<rect x="245" y="734" width="12" height="5"/>
<rect x="233" y="656" width="24" height="5"/>
<rect x="245" y="577" width="12" height="5"/>
<rect x="233" y="499" width="24" height="5"/>
<rect x="245" y="420" width="12" height="5"/>
<rect x="233" y="342" width="24" height="5"/>
<rect x="245" y="263" width="12" height="5"/>
<rect x="233" y="185" width="24" height="5"/>
<rect x="245" y="106" width="12" height="5"/>
<rect x="391" y="1286" width="5" height="24"/>
<rect x="526" y="1286" width="5" height="12"/>
<rect x="662" y="1286" width="5" height="24"/>
<rect x="798" y="1286" width="5" height="12"/>
<rect x="934" y="1286" width="5" height="24"/>
<rect x="1069" y="1286" width="5" height="12"/>
<rect x="1205" y="1286" width="5" height="24"/>
<rect x="1341" y="1286" width="5" height="12"/>
<rect x="1476" y="1286" width="5" height="24"/>
<rect x="1612" y="1286" width="5" height="12"/>
<rect x="1748" y="1286" width="5" height="24"/>
</g>
<g filter="url(#crisp)">
<g font-size="51">
<text x="140.1" y="1298.0" textLength="77.9" lengthAdjust="spacingAndGlyphs">-0.2</text>
<text x="155.6" y="1140.9" textLength="61.5" lengthAdjust="spacingAndGlyphs">0.0</text>
<text x="156.5" y="983.9" textLength="61.5" lengthAdjust="spacingAndGlyphs">0.2</text>
<text x="154.5" y="826.8" textLength="61.5" lengthAdjust="spacingAndGlyphs">0.4</text>
<text x="155.3" y="669.8" textLength="61.5" lengthAdjust="spacingAndGlyphs">0.6</text>
<text x="155.6" y="512.7" textLength="61.5" lengthAdjust="spacingAndGlyphs">0.8</text>
<text x="155.6" y="355.7" textLength="61.5" lengthAdjust="spacingAndGlyphs">1.0</text>
<text x="156.5" y="198.6" textLength="61.5" lengthAdjust="spacingAndGlyphs">1.2</text>
<text x="356.3" y="1359.8" textLength="73.8" lengthAdjust="spacingAndGlyphs">100</text>
<text x="627.7" y="1359.8" textLength="73.8" lengthAdjust="spacingAndGlyphs">200</text>
<text x="899.2" y="1359.8" textLength="73.8" lengthAdjust="spacingAndGlyphs">300</text>
<text x="1170.6" y="1359.8" textLength="73.8" lengthAdjust="spacingAndGlyphs">400</text>
<text x="1442.1" y="1359.8" textLength="73.8" lengthAdjust="spacingAndGlyphs">500</text>
<text x="1713.5" y="1359.8" textLength="73.8" lengthAdjust="spacingAndGlyphs">600</text>
</g>
<text font-size="59" y="1474.3"><tspan x="782.3" textLength="327.4" lengthAdjust="spacingAndGlyphs">Temperature</tspan> <tspan x="1124.4" textLength="100.3" lengthAdjust="spacingAndGlyphs">(°C)</tspan></text>
<text font-size="61" transform="translate(68,677.2) rotate(-90) scale(0.985,1)" text-anchor="middle">TCD signal (a.u.)</text>
<g shape-rendering="crispEdges">
<rect x="1253" y="39" width="156" height="3" fill="#960000"/>
<rect x="1253" y="139" width="156" height="3" fill="#000000"/>
<rect x="1253" y="222" width="156" height="4" fill="#ff0000"/>
<rect x="1253" y="306" width="156" height="4" fill="#00009b"/>
</g>
<g font-size="58.8">
<text transform="translate(1422,61.9) scale(1.016,0.985)">γAl<tspan font-size="37" dy="20">2</tspan><tspan dy="-20">O</tspan><tspan font-size="37" dy="20">3</tspan></text>
<text y="162.8"><tspan x="1421.7" textLength="86.6" lengthAdjust="spacingAndGlyphs">Cat</tspan> <tspan x="1523.4" textLength="42.2" lengthAdjust="spacingAndGlyphs">A</tspan></text>
<text y="245.8"><tspan x="1421.5" textLength="86.5" lengthAdjust="spacingAndGlyphs">Cat</tspan> <tspan x="1522.3" textLength="34.5" lengthAdjust="spacingAndGlyphs">B</tspan></text>
<text y="329"><tspan x="1421.5" textLength="86.5" lengthAdjust="spacingAndGlyphs">Cat</tspan> <tspan x="1522.0" textLength="44.7" lengthAdjust="spacingAndGlyphs">D</tspan></text>
</g>
</g>
</svg>
</body>
</html>
